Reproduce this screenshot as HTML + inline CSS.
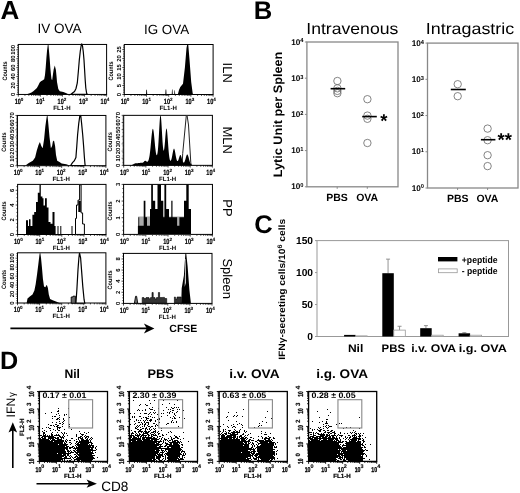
<!DOCTYPE html>
<html><head><meta charset="utf-8"><style>
html,body{margin:0;padding:0;background:#fff;}
svg{display:block;will-change:transform;}
text{font-family:"Liberation Sans",sans-serif;text-rendering:geometricPrecision;}
</style></head><body>
<svg width="520" height="493" viewBox="0 0 520 493" font-family="Liberation Sans, sans-serif">
<text x="0.6" y="18.75" font-size="26" font-weight="bold" text-anchor="start" fill="#000" >A</text>
<text x="37.4" y="33.2" font-size="13.5" text-anchor="start" fill="#000" >IV OVA</text>
<text x="144.0" y="33.7" font-size="13.4" text-anchor="start" fill="#000" >IG OVA</text>
<rect x="18.3" y="44.45" width="88.30" height="50.00" fill="none" stroke="#000" stroke-width="1"/>
<path d="M18.30,94.45 v2.2 M24.95,94.45 v1.4 M28.83,94.45 v1.4 M31.59,94.45 v1.4 M33.73,94.45 v1.4 M35.48,94.45 v1.4 M36.96,94.45 v1.4 M38.24,94.45 v1.4 M39.36,94.45 v1.4 M40.38,94.45 v2.2 M47.02,94.45 v1.4 M50.91,94.45 v1.4 M53.67,94.45 v1.4 M55.80,94.45 v1.4 M57.55,94.45 v1.4 M59.03,94.45 v1.4 M60.31,94.45 v1.4 M61.44,94.45 v1.4 M62.45,94.45 v2.2 M69.10,94.45 v1.4 M72.98,94.45 v1.4 M75.74,94.45 v1.4 M77.88,94.45 v1.4 M79.63,94.45 v1.4 M81.11,94.45 v1.4 M82.39,94.45 v1.4 M83.51,94.45 v1.4 M84.52,94.45 v2.2 M91.17,94.45 v1.4 M95.06,94.45 v1.4 M97.82,94.45 v1.4 M99.95,94.45 v1.4 M101.70,94.45 v1.4 M103.18,94.45 v1.4 M104.46,94.45 v1.4 M105.59,94.45 v1.4 M106.60,94.45 v2.2 M18.30,94.45 h-2.0 M18.30,92.22 h-1.2 M18.30,89.99 h-1.2 M18.30,87.75 h-1.2 M18.30,85.52 h-2.0 M18.30,83.29 h-1.2 M18.30,81.06 h-1.2 M18.30,78.83 h-1.2 M18.30,76.59 h-2.0 M18.30,74.36 h-1.2 M18.30,72.13 h-1.2 M18.30,69.90 h-1.2 M18.30,67.66 h-2.0 M18.30,65.43 h-1.2 M18.30,63.20 h-1.2 M18.30,60.97 h-1.2 M18.30,58.74 h-2.0 M18.30,56.50 h-1.2 M18.30,54.27 h-1.2 M18.30,52.04 h-1.2 M18.30,49.81 h-2.0 M18.30,47.58 h-1.2 M18.30,45.34 h-1.2" stroke="#000" stroke-width="0.7" fill="none"/>
<text x="17.75" y="103.75" font-size="7.6" font-weight="bold" stroke="#000" stroke-width="0.2" text-anchor="middle" textLength="6.2" lengthAdjust="spacingAndGlyphs">10</text>
<text x="20.85" y="100.75" font-size="4.6" font-weight="bold" stroke="#000" stroke-width="0.1">0</text>
<text x="39.22" y="103.75" font-size="7.6" font-weight="bold" stroke="#000" stroke-width="0.2" text-anchor="middle" textLength="6.2" lengthAdjust="spacingAndGlyphs">10</text>
<text x="42.32" y="100.75" font-size="4.6" font-weight="bold" stroke="#000" stroke-width="0.1">1</text>
<text x="60.70" y="103.75" font-size="7.6" font-weight="bold" stroke="#000" stroke-width="0.2" text-anchor="middle" textLength="6.2" lengthAdjust="spacingAndGlyphs">10</text>
<text x="63.80" y="100.75" font-size="4.6" font-weight="bold" stroke="#000" stroke-width="0.1">2</text>
<text x="82.17" y="103.75" font-size="7.6" font-weight="bold" stroke="#000" stroke-width="0.2" text-anchor="middle" textLength="6.2" lengthAdjust="spacingAndGlyphs">10</text>
<text x="85.28" y="100.75" font-size="4.6" font-weight="bold" stroke="#000" stroke-width="0.1">3</text>
<text x="103.65" y="103.75" font-size="7.6" font-weight="bold" stroke="#000" stroke-width="0.2" text-anchor="middle" textLength="6.2" lengthAdjust="spacingAndGlyphs">10</text>
<text x="106.75" y="100.75" font-size="4.6" font-weight="bold" stroke="#000" stroke-width="0.1">4</text>
<text x="62.00" y="109.85" font-size="6.1" font-weight="bold" text-anchor="middle">FL1-H</text>
<text x="14.80" y="94.45" font-size="5.9" font-weight="bold" text-anchor="middle" transform="rotate(-90 14.80 94.45)">0</text>
<text x="14.80" y="85.52" font-size="5.9" font-weight="bold" text-anchor="middle" transform="rotate(-90 14.80 85.52)">20</text>
<text x="14.80" y="76.59" font-size="5.9" font-weight="bold" text-anchor="middle" transform="rotate(-90 14.80 76.59)">40</text>
<text x="14.80" y="67.66" font-size="5.9" font-weight="bold" text-anchor="middle" transform="rotate(-90 14.80 67.66)">60</text>
<text x="14.80" y="58.74" font-size="5.9" font-weight="bold" text-anchor="middle" transform="rotate(-90 14.80 58.74)">80</text>
<text x="14.80" y="49.81" font-size="5.9" font-weight="bold" text-anchor="middle" transform="rotate(-90 14.80 49.81)">100</text>
<text x="6.60" y="70.95" font-size="6.4" font-weight="bold" text-anchor="middle" transform="rotate(-90 6.60 70.95)" textLength="19.2" lengthAdjust="spacingAndGlyphs">Counts</text>
<rect x="124.3" y="44.5" width="88.80" height="50.00" fill="none" stroke="#000" stroke-width="1"/>
<path d="M124.30,94.5 v2.2 M130.98,94.5 v1.4 M134.89,94.5 v1.4 M137.67,94.5 v1.4 M139.82,94.5 v1.4 M141.57,94.5 v1.4 M143.06,94.5 v1.4 M144.35,94.5 v1.4 M145.48,94.5 v1.4 M146.50,94.5 v2.2 M153.18,94.5 v1.4 M157.09,94.5 v1.4 M159.87,94.5 v1.4 M162.02,94.5 v1.4 M163.77,94.5 v1.4 M165.26,94.5 v1.4 M166.55,94.5 v1.4 M167.68,94.5 v1.4 M168.70,94.5 v2.2 M175.38,94.5 v1.4 M179.29,94.5 v1.4 M182.07,94.5 v1.4 M184.22,94.5 v1.4 M185.97,94.5 v1.4 M187.46,94.5 v1.4 M188.75,94.5 v1.4 M189.88,94.5 v1.4 M190.90,94.5 v2.2 M197.58,94.5 v1.4 M201.49,94.5 v1.4 M204.27,94.5 v1.4 M206.42,94.5 v1.4 M208.17,94.5 v1.4 M209.66,94.5 v1.4 M210.95,94.5 v1.4 M212.08,94.5 v1.4 M213.10,94.5 v2.2 M124.30,94.50 h-2.0 M124.30,92.70 h-1.2 M124.30,90.90 h-1.2 M124.30,89.10 h-1.2 M124.30,87.31 h-1.2 M124.30,85.51 h-2.0 M124.30,83.71 h-1.2 M124.30,81.91 h-1.2 M124.30,80.11 h-1.2 M124.30,78.31 h-1.2 M124.30,76.51 h-2.0 M124.30,74.72 h-1.2 M124.30,72.92 h-1.2 M124.30,71.12 h-1.2 M124.30,69.32 h-1.2 M124.30,67.52 h-2.0 M124.30,65.72 h-1.2 M124.30,63.92 h-1.2 M124.30,62.13 h-1.2 M124.30,60.33 h-1.2 M124.30,58.53 h-2.0 M124.30,56.73 h-1.2 M124.30,54.93 h-1.2 M124.30,53.13 h-1.2 M124.30,51.33 h-1.2 M124.30,49.54 h-2.0 M124.30,47.74 h-1.2 M124.30,45.94 h-1.2" stroke="#000" stroke-width="0.7" fill="none"/>
<text x="123.75" y="103.80" font-size="7.6" font-weight="bold" stroke="#000" stroke-width="0.2" text-anchor="middle" textLength="6.2" lengthAdjust="spacingAndGlyphs">10</text>
<text x="126.85" y="100.80" font-size="4.6" font-weight="bold" stroke="#000" stroke-width="0.1">0</text>
<text x="145.35" y="103.80" font-size="7.6" font-weight="bold" stroke="#000" stroke-width="0.2" text-anchor="middle" textLength="6.2" lengthAdjust="spacingAndGlyphs">10</text>
<text x="148.45" y="100.80" font-size="4.6" font-weight="bold" stroke="#000" stroke-width="0.1">1</text>
<text x="166.95" y="103.80" font-size="7.6" font-weight="bold" stroke="#000" stroke-width="0.2" text-anchor="middle" textLength="6.2" lengthAdjust="spacingAndGlyphs">10</text>
<text x="170.05" y="100.80" font-size="4.6" font-weight="bold" stroke="#000" stroke-width="0.1">2</text>
<text x="188.55" y="103.80" font-size="7.6" font-weight="bold" stroke="#000" stroke-width="0.2" text-anchor="middle" textLength="6.2" lengthAdjust="spacingAndGlyphs">10</text>
<text x="191.65" y="100.80" font-size="4.6" font-weight="bold" stroke="#000" stroke-width="0.1">3</text>
<text x="210.15" y="103.80" font-size="7.6" font-weight="bold" stroke="#000" stroke-width="0.2" text-anchor="middle" textLength="6.2" lengthAdjust="spacingAndGlyphs">10</text>
<text x="213.25" y="100.80" font-size="4.6" font-weight="bold" stroke="#000" stroke-width="0.1">4</text>
<text x="168.25" y="109.90" font-size="6.1" font-weight="bold" text-anchor="middle">FL1-H</text>
<text x="120.80" y="94.50" font-size="5.9" font-weight="bold" text-anchor="middle" transform="rotate(-90 120.80 94.50)">0</text>
<text x="120.80" y="85.51" font-size="5.9" font-weight="bold" text-anchor="middle" transform="rotate(-90 120.80 85.51)">5</text>
<text x="120.80" y="76.51" font-size="5.9" font-weight="bold" text-anchor="middle" transform="rotate(-90 120.80 76.51)">10</text>
<text x="120.80" y="67.52" font-size="5.9" font-weight="bold" text-anchor="middle" transform="rotate(-90 120.80 67.52)">15</text>
<text x="120.80" y="58.53" font-size="5.9" font-weight="bold" text-anchor="middle" transform="rotate(-90 120.80 58.53)">20</text>
<text x="120.80" y="49.54" font-size="5.9" font-weight="bold" text-anchor="middle" transform="rotate(-90 120.80 49.54)">25</text>
<text x="112.60" y="71.00" font-size="6.4" font-weight="bold" text-anchor="middle" transform="rotate(-90 112.60 71.00)" textLength="19.2" lengthAdjust="spacingAndGlyphs">Counts</text>
<rect x="17.45" y="115.45" width="88.45" height="50.25" fill="none" stroke="#000" stroke-width="1"/>
<path d="M17.45,165.7 v2.2 M24.11,165.7 v1.4 M28.00,165.7 v1.4 M30.76,165.7 v1.4 M32.91,165.7 v1.4 M34.66,165.7 v1.4 M36.14,165.7 v1.4 M37.42,165.7 v1.4 M38.55,165.7 v1.4 M39.56,165.7 v2.2 M46.22,165.7 v1.4 M50.11,165.7 v1.4 M52.88,165.7 v1.4 M55.02,165.7 v1.4 M56.77,165.7 v1.4 M58.25,165.7 v1.4 M59.53,165.7 v1.4 M60.66,165.7 v1.4 M61.67,165.7 v2.2 M68.33,165.7 v1.4 M72.23,165.7 v1.4 M74.99,165.7 v1.4 M77.13,165.7 v1.4 M78.88,165.7 v1.4 M80.36,165.7 v1.4 M81.64,165.7 v1.4 M82.78,165.7 v1.4 M83.79,165.7 v2.2 M90.44,165.7 v1.4 M94.34,165.7 v1.4 M97.10,165.7 v1.4 M99.24,165.7 v1.4 M100.99,165.7 v1.4 M102.47,165.7 v1.4 M103.76,165.7 v1.4 M104.89,165.7 v1.4 M105.90,165.7 v2.2 M17.45,165.70 h-2.0 M17.45,164.26 h-1.2 M17.45,162.83 h-1.2 M17.45,161.39 h-1.2 M17.45,159.96 h-1.2 M17.45,158.52 h-2.0 M17.45,157.09 h-1.2 M17.45,155.65 h-1.2 M17.45,154.21 h-1.2 M17.45,152.78 h-1.2 M17.45,151.34 h-2.0 M17.45,149.91 h-1.2 M17.45,148.47 h-1.2 M17.45,147.04 h-1.2 M17.45,145.60 h-1.2 M17.45,144.16 h-2.0 M17.45,142.73 h-1.2 M17.45,141.29 h-1.2 M17.45,139.86 h-1.2 M17.45,138.42 h-1.2 M17.45,136.99 h-2.0 M17.45,135.55 h-1.2 M17.45,134.11 h-1.2 M17.45,132.68 h-1.2 M17.45,131.24 h-1.2 M17.45,129.81 h-2.0 M17.45,128.37 h-1.2 M17.45,126.94 h-1.2 M17.45,125.50 h-1.2 M17.45,124.06 h-1.2 M17.45,122.63 h-2.0 M17.45,121.19 h-1.2 M17.45,119.76 h-1.2 M17.45,118.32 h-1.2 M17.45,116.89 h-1.2 M17.45,115.45 h-2.0" stroke="#000" stroke-width="0.7" fill="none"/>
<text x="16.90" y="175.00" font-size="7.6" font-weight="bold" stroke="#000" stroke-width="0.2" text-anchor="middle" textLength="6.2" lengthAdjust="spacingAndGlyphs">10</text>
<text x="20.00" y="172.00" font-size="4.6" font-weight="bold" stroke="#000" stroke-width="0.1">0</text>
<text x="38.41" y="175.00" font-size="7.6" font-weight="bold" stroke="#000" stroke-width="0.2" text-anchor="middle" textLength="6.2" lengthAdjust="spacingAndGlyphs">10</text>
<text x="41.51" y="172.00" font-size="4.6" font-weight="bold" stroke="#000" stroke-width="0.1">1</text>
<text x="59.92" y="175.00" font-size="7.6" font-weight="bold" stroke="#000" stroke-width="0.2" text-anchor="middle" textLength="6.2" lengthAdjust="spacingAndGlyphs">10</text>
<text x="63.02" y="172.00" font-size="4.6" font-weight="bold" stroke="#000" stroke-width="0.1">2</text>
<text x="81.44" y="175.00" font-size="7.6" font-weight="bold" stroke="#000" stroke-width="0.2" text-anchor="middle" textLength="6.2" lengthAdjust="spacingAndGlyphs">10</text>
<text x="84.54" y="172.00" font-size="4.6" font-weight="bold" stroke="#000" stroke-width="0.1">3</text>
<text x="102.95" y="175.00" font-size="7.6" font-weight="bold" stroke="#000" stroke-width="0.2" text-anchor="middle" textLength="6.2" lengthAdjust="spacingAndGlyphs">10</text>
<text x="106.05" y="172.00" font-size="4.6" font-weight="bold" stroke="#000" stroke-width="0.1">4</text>
<text x="61.23" y="181.10" font-size="6.1" font-weight="bold" text-anchor="middle">FL1-H</text>
<text x="13.95" y="165.70" font-size="5.9" font-weight="bold" text-anchor="middle" transform="rotate(-90 13.95 165.70)">0</text>
<text x="13.95" y="158.52" font-size="5.9" font-weight="bold" text-anchor="middle" transform="rotate(-90 13.95 158.52)">10</text>
<text x="13.95" y="151.34" font-size="5.9" font-weight="bold" text-anchor="middle" transform="rotate(-90 13.95 151.34)">20</text>
<text x="13.95" y="144.16" font-size="5.9" font-weight="bold" text-anchor="middle" transform="rotate(-90 13.95 144.16)">30</text>
<text x="13.95" y="136.99" font-size="5.9" font-weight="bold" text-anchor="middle" transform="rotate(-90 13.95 136.99)">40</text>
<text x="13.95" y="129.81" font-size="5.9" font-weight="bold" text-anchor="middle" transform="rotate(-90 13.95 129.81)">50</text>
<text x="13.95" y="122.63" font-size="5.9" font-weight="bold" text-anchor="middle" transform="rotate(-90 13.95 122.63)">60</text>
<text x="13.95" y="115.45" font-size="5.9" font-weight="bold" text-anchor="middle" transform="rotate(-90 13.95 115.45)">70</text>
<text x="5.75" y="142.07" font-size="6.4" font-weight="bold" text-anchor="middle" transform="rotate(-90 5.75 142.07)" textLength="19.2" lengthAdjust="spacingAndGlyphs">Counts</text>
<rect x="123.7" y="115.35" width="88.70" height="50.00" fill="none" stroke="#000" stroke-width="1"/>
<path d="M123.70,165.35 v2.2 M130.38,165.35 v1.4 M134.28,165.35 v1.4 M137.05,165.35 v1.4 M139.20,165.35 v1.4 M140.96,165.35 v1.4 M142.44,165.35 v1.4 M143.73,165.35 v1.4 M144.86,165.35 v1.4 M145.88,165.35 v2.2 M152.55,165.35 v1.4 M156.46,165.35 v1.4 M159.23,165.35 v1.4 M161.37,165.35 v1.4 M163.13,165.35 v1.4 M164.62,165.35 v1.4 M165.90,165.35 v1.4 M167.04,165.35 v1.4 M168.05,165.35 v2.2 M174.73,165.35 v1.4 M178.63,165.35 v1.4 M181.40,165.35 v1.4 M183.55,165.35 v1.4 M185.31,165.35 v1.4 M186.79,165.35 v1.4 M188.08,165.35 v1.4 M189.21,165.35 v1.4 M190.23,165.35 v2.2 M196.90,165.35 v1.4 M200.81,165.35 v1.4 M203.58,165.35 v1.4 M205.72,165.35 v1.4 M207.48,165.35 v1.4 M208.97,165.35 v1.4 M210.25,165.35 v1.4 M211.39,165.35 v1.4 M212.40,165.35 v2.2 M123.70,165.35 h-2.0 M123.70,163.92 h-1.2 M123.70,162.49 h-1.2 M123.70,161.06 h-1.2 M123.70,159.64 h-1.2 M123.70,158.21 h-2.0 M123.70,156.78 h-1.2 M123.70,155.35 h-1.2 M123.70,153.92 h-1.2 M123.70,152.49 h-1.2 M123.70,151.06 h-2.0 M123.70,149.64 h-1.2 M123.70,148.21 h-1.2 M123.70,146.78 h-1.2 M123.70,145.35 h-1.2 M123.70,143.92 h-2.0 M123.70,142.49 h-1.2 M123.70,141.06 h-1.2 M123.70,139.64 h-1.2 M123.70,138.21 h-1.2 M123.70,136.78 h-2.0 M123.70,135.35 h-1.2 M123.70,133.92 h-1.2 M123.70,132.49 h-1.2 M123.70,131.06 h-1.2 M123.70,129.64 h-2.0 M123.70,128.21 h-1.2 M123.70,126.78 h-1.2 M123.70,125.35 h-1.2 M123.70,123.92 h-1.2 M123.70,122.49 h-2.0 M123.70,121.06 h-1.2 M123.70,119.64 h-1.2 M123.70,118.21 h-1.2 M123.70,116.78 h-1.2 M123.70,115.35 h-2.0" stroke="#000" stroke-width="0.7" fill="none"/>
<text x="123.15" y="174.65" font-size="7.6" font-weight="bold" stroke="#000" stroke-width="0.2" text-anchor="middle" textLength="6.2" lengthAdjust="spacingAndGlyphs">10</text>
<text x="126.25" y="171.65" font-size="4.6" font-weight="bold" stroke="#000" stroke-width="0.1">0</text>
<text x="144.73" y="174.65" font-size="7.6" font-weight="bold" stroke="#000" stroke-width="0.2" text-anchor="middle" textLength="6.2" lengthAdjust="spacingAndGlyphs">10</text>
<text x="147.83" y="171.65" font-size="4.6" font-weight="bold" stroke="#000" stroke-width="0.1">1</text>
<text x="166.30" y="174.65" font-size="7.6" font-weight="bold" stroke="#000" stroke-width="0.2" text-anchor="middle" textLength="6.2" lengthAdjust="spacingAndGlyphs">10</text>
<text x="169.40" y="171.65" font-size="4.6" font-weight="bold" stroke="#000" stroke-width="0.1">2</text>
<text x="187.88" y="174.65" font-size="7.6" font-weight="bold" stroke="#000" stroke-width="0.2" text-anchor="middle" textLength="6.2" lengthAdjust="spacingAndGlyphs">10</text>
<text x="190.97" y="171.65" font-size="4.6" font-weight="bold" stroke="#000" stroke-width="0.1">3</text>
<text x="209.45" y="174.65" font-size="7.6" font-weight="bold" stroke="#000" stroke-width="0.2" text-anchor="middle" textLength="6.2" lengthAdjust="spacingAndGlyphs">10</text>
<text x="212.55" y="171.65" font-size="4.6" font-weight="bold" stroke="#000" stroke-width="0.1">4</text>
<text x="167.60" y="180.75" font-size="6.1" font-weight="bold" text-anchor="middle">FL1-H</text>
<text x="120.20" y="165.35" font-size="5.9" font-weight="bold" text-anchor="middle" transform="rotate(-90 120.20 165.35)">0</text>
<text x="120.20" y="158.21" font-size="5.9" font-weight="bold" text-anchor="middle" transform="rotate(-90 120.20 158.21)">10</text>
<text x="120.20" y="151.06" font-size="5.9" font-weight="bold" text-anchor="middle" transform="rotate(-90 120.20 151.06)">20</text>
<text x="120.20" y="143.92" font-size="5.9" font-weight="bold" text-anchor="middle" transform="rotate(-90 120.20 143.92)">30</text>
<text x="120.20" y="136.78" font-size="5.9" font-weight="bold" text-anchor="middle" transform="rotate(-90 120.20 136.78)">40</text>
<text x="120.20" y="129.64" font-size="5.9" font-weight="bold" text-anchor="middle" transform="rotate(-90 120.20 129.64)">50</text>
<text x="120.20" y="122.49" font-size="5.9" font-weight="bold" text-anchor="middle" transform="rotate(-90 120.20 122.49)">60</text>
<text x="120.20" y="115.35" font-size="5.9" font-weight="bold" text-anchor="middle" transform="rotate(-90 120.20 115.35)">70</text>
<text x="112.00" y="141.85" font-size="6.4" font-weight="bold" text-anchor="middle" transform="rotate(-90 112.00 141.85)" textLength="19.2" lengthAdjust="spacingAndGlyphs">Counts</text>
<rect x="17.6" y="184.4" width="88.40" height="50.10" fill="none" stroke="#000" stroke-width="1"/>
<path d="M17.60,234.5 v2.2 M24.25,234.5 v1.4 M28.14,234.5 v1.4 M30.91,234.5 v1.4 M33.05,234.5 v1.4 M34.80,234.5 v1.4 M36.28,234.5 v1.4 M37.56,234.5 v1.4 M38.69,234.5 v1.4 M39.70,234.5 v2.2 M46.35,234.5 v1.4 M50.24,234.5 v1.4 M53.01,234.5 v1.4 M55.15,234.5 v1.4 M56.90,234.5 v1.4 M58.38,234.5 v1.4 M59.66,234.5 v1.4 M60.79,234.5 v1.4 M61.80,234.5 v2.2 M68.45,234.5 v1.4 M72.34,234.5 v1.4 M75.11,234.5 v1.4 M77.25,234.5 v1.4 M79.00,234.5 v1.4 M80.48,234.5 v1.4 M81.76,234.5 v1.4 M82.89,234.5 v1.4 M83.90,234.5 v2.2 M90.55,234.5 v1.4 M94.44,234.5 v1.4 M97.21,234.5 v1.4 M99.35,234.5 v1.4 M101.10,234.5 v1.4 M102.58,234.5 v1.4 M103.86,234.5 v1.4 M104.99,234.5 v1.4 M106.00,234.5 v2.2 M17.60,234.50 h-2.0 M17.60,230.82 h-1.2 M17.60,227.13 h-1.2 M17.60,223.45 h-1.2 M17.60,219.76 h-2.0 M17.60,216.08 h-1.2 M17.60,212.40 h-1.2 M17.60,208.71 h-1.2 M17.60,205.03 h-2.0 M17.60,201.35 h-1.2 M17.60,197.66 h-1.2 M17.60,193.98 h-1.2 M17.60,190.29 h-2.0 M17.60,186.61 h-1.2" stroke="#000" stroke-width="0.7" fill="none"/>
<text x="17.05" y="243.80" font-size="7.6" font-weight="bold" stroke="#000" stroke-width="0.2" text-anchor="middle" textLength="6.2" lengthAdjust="spacingAndGlyphs">10</text>
<text x="20.15" y="240.80" font-size="4.6" font-weight="bold" stroke="#000" stroke-width="0.1">0</text>
<text x="38.55" y="243.80" font-size="7.6" font-weight="bold" stroke="#000" stroke-width="0.2" text-anchor="middle" textLength="6.2" lengthAdjust="spacingAndGlyphs">10</text>
<text x="41.65" y="240.80" font-size="4.6" font-weight="bold" stroke="#000" stroke-width="0.1">1</text>
<text x="60.05" y="243.80" font-size="7.6" font-weight="bold" stroke="#000" stroke-width="0.2" text-anchor="middle" textLength="6.2" lengthAdjust="spacingAndGlyphs">10</text>
<text x="63.15" y="240.80" font-size="4.6" font-weight="bold" stroke="#000" stroke-width="0.1">2</text>
<text x="81.55" y="243.80" font-size="7.6" font-weight="bold" stroke="#000" stroke-width="0.2" text-anchor="middle" textLength="6.2" lengthAdjust="spacingAndGlyphs">10</text>
<text x="84.65" y="240.80" font-size="4.6" font-weight="bold" stroke="#000" stroke-width="0.1">3</text>
<text x="103.05" y="243.80" font-size="7.6" font-weight="bold" stroke="#000" stroke-width="0.2" text-anchor="middle" textLength="6.2" lengthAdjust="spacingAndGlyphs">10</text>
<text x="106.15" y="240.80" font-size="4.6" font-weight="bold" stroke="#000" stroke-width="0.1">4</text>
<text x="61.35" y="249.90" font-size="6.1" font-weight="bold" text-anchor="middle">FL1-H</text>
<text x="14.10" y="234.50" font-size="5.9" font-weight="bold" text-anchor="middle" transform="rotate(-90 14.10 234.50)">0</text>
<text x="14.10" y="219.76" font-size="5.9" font-weight="bold" text-anchor="middle" transform="rotate(-90 14.10 219.76)">2</text>
<text x="14.10" y="205.03" font-size="5.9" font-weight="bold" text-anchor="middle" transform="rotate(-90 14.10 205.03)">4</text>
<text x="14.10" y="190.29" font-size="5.9" font-weight="bold" text-anchor="middle" transform="rotate(-90 14.10 190.29)">6</text>
<text x="5.90" y="210.95" font-size="6.4" font-weight="bold" text-anchor="middle" transform="rotate(-90 5.90 210.95)" textLength="19.2" lengthAdjust="spacingAndGlyphs">Counts</text>
<rect x="123.6" y="184.4" width="88.85" height="50.00" fill="none" stroke="#000" stroke-width="1"/>
<path d="M123.60,234.4 v2.2 M130.29,234.4 v1.4 M134.20,234.4 v1.4 M136.97,234.4 v1.4 M139.13,234.4 v1.4 M140.88,234.4 v1.4 M142.37,234.4 v1.4 M143.66,234.4 v1.4 M144.80,234.4 v1.4 M145.81,234.4 v2.2 M152.50,234.4 v1.4 M156.41,234.4 v1.4 M159.19,234.4 v1.4 M161.34,234.4 v1.4 M163.10,234.4 v1.4 M164.58,234.4 v1.4 M165.87,234.4 v1.4 M167.01,234.4 v1.4 M168.02,234.4 v2.2 M174.71,234.4 v1.4 M178.62,234.4 v1.4 M181.40,234.4 v1.4 M183.55,234.4 v1.4 M185.31,234.4 v1.4 M186.80,234.4 v1.4 M188.08,234.4 v1.4 M189.22,234.4 v1.4 M190.24,234.4 v2.2 M196.92,234.4 v1.4 M200.84,234.4 v1.4 M203.61,234.4 v1.4 M205.76,234.4 v1.4 M207.52,234.4 v1.4 M209.01,234.4 v1.4 M210.30,234.4 v1.4 M211.43,234.4 v1.4 M212.45,234.4 v2.2 M123.60,234.40 h-2.0 M123.60,230.23 h-1.2 M123.60,226.07 h-1.2 M123.60,221.90 h-1.2 M123.60,217.73 h-2.0 M123.60,213.57 h-1.2 M123.60,209.40 h-1.2 M123.60,205.23 h-1.2 M123.60,201.07 h-2.0 M123.60,196.90 h-1.2 M123.60,192.73 h-1.2 M123.60,188.57 h-1.2 M123.60,184.40 h-2.0" stroke="#000" stroke-width="0.7" fill="none"/>
<text x="123.05" y="243.70" font-size="7.6" font-weight="bold" stroke="#000" stroke-width="0.2" text-anchor="middle" textLength="6.2" lengthAdjust="spacingAndGlyphs">10</text>
<text x="126.15" y="240.70" font-size="4.6" font-weight="bold" stroke="#000" stroke-width="0.1">0</text>
<text x="144.66" y="243.70" font-size="7.6" font-weight="bold" stroke="#000" stroke-width="0.2" text-anchor="middle" textLength="6.2" lengthAdjust="spacingAndGlyphs">10</text>
<text x="147.76" y="240.70" font-size="4.6" font-weight="bold" stroke="#000" stroke-width="0.1">1</text>
<text x="166.28" y="243.70" font-size="7.6" font-weight="bold" stroke="#000" stroke-width="0.2" text-anchor="middle" textLength="6.2" lengthAdjust="spacingAndGlyphs">10</text>
<text x="169.38" y="240.70" font-size="4.6" font-weight="bold" stroke="#000" stroke-width="0.1">2</text>
<text x="187.89" y="243.70" font-size="7.6" font-weight="bold" stroke="#000" stroke-width="0.2" text-anchor="middle" textLength="6.2" lengthAdjust="spacingAndGlyphs">10</text>
<text x="190.99" y="240.70" font-size="4.6" font-weight="bold" stroke="#000" stroke-width="0.1">3</text>
<text x="209.50" y="243.70" font-size="7.6" font-weight="bold" stroke="#000" stroke-width="0.2" text-anchor="middle" textLength="6.2" lengthAdjust="spacingAndGlyphs">10</text>
<text x="212.60" y="240.70" font-size="4.6" font-weight="bold" stroke="#000" stroke-width="0.1">4</text>
<text x="167.57" y="249.80" font-size="6.1" font-weight="bold" text-anchor="middle">FL1-H</text>
<text x="120.10" y="234.40" font-size="5.9" font-weight="bold" text-anchor="middle" transform="rotate(-90 120.10 234.40)">0</text>
<text x="120.10" y="217.73" font-size="5.9" font-weight="bold" text-anchor="middle" transform="rotate(-90 120.10 217.73)">1</text>
<text x="120.10" y="201.07" font-size="5.9" font-weight="bold" text-anchor="middle" transform="rotate(-90 120.10 201.07)">2</text>
<text x="120.10" y="184.40" font-size="5.9" font-weight="bold" text-anchor="middle" transform="rotate(-90 120.10 184.40)">3</text>
<text x="111.90" y="210.90" font-size="6.4" font-weight="bold" text-anchor="middle" transform="rotate(-90 111.90 210.90)" textLength="19.2" lengthAdjust="spacingAndGlyphs">Counts</text>
<rect x="17.5" y="252.8" width="88.40" height="50.20" fill="none" stroke="#000" stroke-width="1"/>
<path d="M17.50,303.0 v2.2 M24.15,303.0 v1.4 M28.04,303.0 v1.4 M30.81,303.0 v1.4 M32.95,303.0 v1.4 M34.70,303.0 v1.4 M36.18,303.0 v1.4 M37.46,303.0 v1.4 M38.59,303.0 v1.4 M39.60,303.0 v2.2 M46.25,303.0 v1.4 M50.14,303.0 v1.4 M52.91,303.0 v1.4 M55.05,303.0 v1.4 M56.80,303.0 v1.4 M58.28,303.0 v1.4 M59.56,303.0 v1.4 M60.69,303.0 v1.4 M61.70,303.0 v2.2 M68.35,303.0 v1.4 M72.24,303.0 v1.4 M75.01,303.0 v1.4 M77.15,303.0 v1.4 M78.90,303.0 v1.4 M80.38,303.0 v1.4 M81.66,303.0 v1.4 M82.79,303.0 v1.4 M83.80,303.0 v2.2 M90.45,303.0 v1.4 M94.34,303.0 v1.4 M97.11,303.0 v1.4 M99.25,303.0 v1.4 M101.00,303.0 v1.4 M102.48,303.0 v1.4 M103.76,303.0 v1.4 M104.89,303.0 v1.4 M105.90,303.0 v2.2 M17.50,303.00 h-2.0 M17.50,300.76 h-1.2 M17.50,298.52 h-1.2 M17.50,296.28 h-1.2 M17.50,294.04 h-2.0 M17.50,291.79 h-1.2 M17.50,289.55 h-1.2 M17.50,287.31 h-1.2 M17.50,285.07 h-2.0 M17.50,282.83 h-1.2 M17.50,280.59 h-1.2 M17.50,278.35 h-1.2 M17.50,276.11 h-2.0 M17.50,273.87 h-1.2 M17.50,271.62 h-1.2 M17.50,269.38 h-1.2 M17.50,267.14 h-2.0 M17.50,264.90 h-1.2 M17.50,262.66 h-1.2 M17.50,260.42 h-1.2 M17.50,258.18 h-2.0 M17.50,255.94 h-1.2 M17.50,253.70 h-1.2" stroke="#000" stroke-width="0.7" fill="none"/>
<text x="16.95" y="312.30" font-size="7.6" font-weight="bold" stroke="#000" stroke-width="0.2" text-anchor="middle" textLength="6.2" lengthAdjust="spacingAndGlyphs">10</text>
<text x="20.05" y="309.30" font-size="4.6" font-weight="bold" stroke="#000" stroke-width="0.1">0</text>
<text x="38.45" y="312.30" font-size="7.6" font-weight="bold" stroke="#000" stroke-width="0.2" text-anchor="middle" textLength="6.2" lengthAdjust="spacingAndGlyphs">10</text>
<text x="41.55" y="309.30" font-size="4.6" font-weight="bold" stroke="#000" stroke-width="0.1">1</text>
<text x="59.95" y="312.30" font-size="7.6" font-weight="bold" stroke="#000" stroke-width="0.2" text-anchor="middle" textLength="6.2" lengthAdjust="spacingAndGlyphs">10</text>
<text x="63.05" y="309.30" font-size="4.6" font-weight="bold" stroke="#000" stroke-width="0.1">2</text>
<text x="81.45" y="312.30" font-size="7.6" font-weight="bold" stroke="#000" stroke-width="0.2" text-anchor="middle" textLength="6.2" lengthAdjust="spacingAndGlyphs">10</text>
<text x="84.55" y="309.30" font-size="4.6" font-weight="bold" stroke="#000" stroke-width="0.1">3</text>
<text x="102.95" y="312.30" font-size="7.6" font-weight="bold" stroke="#000" stroke-width="0.2" text-anchor="middle" textLength="6.2" lengthAdjust="spacingAndGlyphs">10</text>
<text x="106.05" y="309.30" font-size="4.6" font-weight="bold" stroke="#000" stroke-width="0.1">4</text>
<text x="61.25" y="318.40" font-size="6.1" font-weight="bold" text-anchor="middle">FL1-H</text>
<text x="14.00" y="303.00" font-size="5.9" font-weight="bold" text-anchor="middle" transform="rotate(-90 14.00 303.00)">0</text>
<text x="14.00" y="294.04" font-size="5.9" font-weight="bold" text-anchor="middle" transform="rotate(-90 14.00 294.04)">20</text>
<text x="14.00" y="285.07" font-size="5.9" font-weight="bold" text-anchor="middle" transform="rotate(-90 14.00 285.07)">40</text>
<text x="14.00" y="276.11" font-size="5.9" font-weight="bold" text-anchor="middle" transform="rotate(-90 14.00 276.11)">60</text>
<text x="14.00" y="267.14" font-size="5.9" font-weight="bold" text-anchor="middle" transform="rotate(-90 14.00 267.14)">80</text>
<text x="14.00" y="258.18" font-size="5.9" font-weight="bold" text-anchor="middle" transform="rotate(-90 14.00 258.18)">100</text>
<text x="5.80" y="279.40" font-size="6.4" font-weight="bold" text-anchor="middle" transform="rotate(-90 5.80 279.40)" textLength="19.2" lengthAdjust="spacingAndGlyphs">Counts</text>
<rect x="123.5" y="253.4" width="88.50" height="50.00" fill="none" stroke="#000" stroke-width="1"/>
<path d="M123.50,303.4 v2.2 M130.16,303.4 v1.4 M134.06,303.4 v1.4 M136.82,303.4 v1.4 M138.96,303.4 v1.4 M140.72,303.4 v1.4 M142.20,303.4 v1.4 M143.48,303.4 v1.4 M144.61,303.4 v1.4 M145.62,303.4 v2.2 M152.29,303.4 v1.4 M156.18,303.4 v1.4 M158.95,303.4 v1.4 M161.09,303.4 v1.4 M162.84,303.4 v1.4 M164.32,303.4 v1.4 M165.61,303.4 v1.4 M166.74,303.4 v1.4 M167.75,303.4 v2.2 M174.41,303.4 v1.4 M178.31,303.4 v1.4 M181.07,303.4 v1.4 M183.21,303.4 v1.4 M184.97,303.4 v1.4 M186.45,303.4 v1.4 M187.73,303.4 v1.4 M188.86,303.4 v1.4 M189.88,303.4 v2.2 M196.54,303.4 v1.4 M200.43,303.4 v1.4 M203.20,303.4 v1.4 M205.34,303.4 v1.4 M207.09,303.4 v1.4 M208.57,303.4 v1.4 M209.86,303.4 v1.4 M210.99,303.4 v1.4 M212.00,303.4 v2.2 M123.50,303.40 h-2.0 M123.50,300.62 h-1.2 M123.50,297.84 h-1.2 M123.50,295.07 h-1.2 M123.50,292.29 h-2.0 M123.50,289.51 h-1.2 M123.50,286.73 h-1.2 M123.50,283.96 h-1.2 M123.50,281.18 h-2.0 M123.50,278.40 h-1.2 M123.50,275.62 h-1.2 M123.50,272.84 h-1.2 M123.50,270.07 h-2.0 M123.50,267.29 h-1.2 M123.50,264.51 h-1.2 M123.50,261.73 h-1.2 M123.50,258.96 h-2.0 M123.50,256.18 h-1.2 M123.50,253.40 h-1.2" stroke="#000" stroke-width="0.7" fill="none"/>
<text x="122.95" y="312.70" font-size="7.6" font-weight="bold" stroke="#000" stroke-width="0.2" text-anchor="middle" textLength="6.2" lengthAdjust="spacingAndGlyphs">10</text>
<text x="126.05" y="309.70" font-size="4.6" font-weight="bold" stroke="#000" stroke-width="0.1">0</text>
<text x="144.48" y="312.70" font-size="7.6" font-weight="bold" stroke="#000" stroke-width="0.2" text-anchor="middle" textLength="6.2" lengthAdjust="spacingAndGlyphs">10</text>
<text x="147.58" y="309.70" font-size="4.6" font-weight="bold" stroke="#000" stroke-width="0.1">1</text>
<text x="166.00" y="312.70" font-size="7.6" font-weight="bold" stroke="#000" stroke-width="0.2" text-anchor="middle" textLength="6.2" lengthAdjust="spacingAndGlyphs">10</text>
<text x="169.10" y="309.70" font-size="4.6" font-weight="bold" stroke="#000" stroke-width="0.1">2</text>
<text x="187.53" y="312.70" font-size="7.6" font-weight="bold" stroke="#000" stroke-width="0.2" text-anchor="middle" textLength="6.2" lengthAdjust="spacingAndGlyphs">10</text>
<text x="190.62" y="309.70" font-size="4.6" font-weight="bold" stroke="#000" stroke-width="0.1">3</text>
<text x="209.05" y="312.70" font-size="7.6" font-weight="bold" stroke="#000" stroke-width="0.2" text-anchor="middle" textLength="6.2" lengthAdjust="spacingAndGlyphs">10</text>
<text x="212.15" y="309.70" font-size="4.6" font-weight="bold" stroke="#000" stroke-width="0.1">4</text>
<text x="167.30" y="318.80" font-size="6.1" font-weight="bold" text-anchor="middle">FL1-H</text>
<text x="120.00" y="303.40" font-size="5.9" font-weight="bold" text-anchor="middle" transform="rotate(-90 120.00 303.40)">0</text>
<text x="120.00" y="292.29" font-size="5.9" font-weight="bold" text-anchor="middle" transform="rotate(-90 120.00 292.29)">2</text>
<text x="120.00" y="281.18" font-size="5.9" font-weight="bold" text-anchor="middle" transform="rotate(-90 120.00 281.18)">4</text>
<text x="120.00" y="270.07" font-size="5.9" font-weight="bold" text-anchor="middle" transform="rotate(-90 120.00 270.07)">6</text>
<text x="120.00" y="258.96" font-size="5.9" font-weight="bold" text-anchor="middle" transform="rotate(-90 120.00 258.96)">8</text>
<text x="111.80" y="279.90" font-size="6.4" font-weight="bold" text-anchor="middle" transform="rotate(-90 111.80 279.90)" textLength="19.2" lengthAdjust="spacingAndGlyphs">Counts</text>
<path d="M26.00,94.45 L29.00,93.60 L31.50,92.50 L33.30,91.20 L35.00,89.80 L36.90,87.90 L38.50,85.00 L39.70,82.40 L41.00,81.20 L42.40,80.60 L44.20,79.30 L45.00,75.00 L45.70,67.40 L46.40,58.00 L47.00,51.00 L47.90,44.00 L48.40,44.00 L49.00,51.00 L49.70,59.00 L50.30,67.40 L51.00,75.00 L51.50,79.30 L52.20,80.00 L53.00,74.00 L53.70,69.20 L54.80,65.60 L55.90,70.10 L56.50,76.00 L57.00,82.00 L58.30,89.00 L59.80,91.20 L63.40,92.10 L67.00,93.40 L68.50,94.45 Z" fill="#000" stroke="none" stroke-width="1" stroke-linejoin="miter"/>
<path d="M70.70,94.45 L72.50,93.00 L74.50,91.50 L76.00,88.50 L77.30,83.00 L78.30,72.00 L79.30,60.00 L80.30,51.00 L81.20,45.50 L81.80,44.20 L82.50,46.00 L83.30,52.00 L84.00,60.00 L84.60,70.00 L85.20,80.00 L85.80,88.00 L86.60,93.00 L87.30,94.45 Z" fill="#fff" stroke="#000" stroke-width="1.2" stroke-linejoin="miter"/>
<path d="M146.00,94.45 L146.30,89.70 L146.90,89.70 L147.20,94.45 Z" fill="#000" stroke="none" stroke-width="1" stroke-linejoin="miter"/>
<path d="M165.30,94.45 L165.60,89.50 L166.20,89.50 L166.50,94.45 Z" fill="#000" stroke="none" stroke-width="1" stroke-linejoin="miter"/>
<path d="M171.70,94.45 L172.00,89.50 L172.50,89.50 L172.80,94.45 Z" fill="#000" stroke="none" stroke-width="1" stroke-linejoin="miter"/>
<path d="M174.20,94.45 L174.50,90.20 L174.90,90.20 L175.20,94.45 Z" fill="#000" stroke="none" stroke-width="1" stroke-linejoin="miter"/>
<path d="M177.80,94.45 L179.00,90.00 L180.30,87.10 L183.00,83.80 L184.90,67.40 L186.50,48.00 L187.30,44.00 L188.20,44.00 L189.40,58.30 L191.20,82.00 L192.70,93.50 L193.40,94.45 Z" fill="#000" stroke="none" stroke-width="1" stroke-linejoin="miter"/>
<path d="M25.40,165.50 L28.80,163.10 L32.80,160.80 L35.10,157.40 L36.80,150.60 L38.50,144.90 L39.90,142.10 L41.30,146.00 L42.70,148.30 L44.10,139.20 L45.30,126.80 L46.40,118.80 L47.00,115.50 L47.50,115.50 L48.30,123.40 L49.50,137.00 L50.90,148.30 L52.10,146.00 L52.90,141.50 L54.00,140.40 L55.10,146.00 L56.00,155.10 L57.20,160.80 L59.50,162.00 L61.70,163.60 L66.30,164.20 L69.70,165.50 Z" fill="#000" stroke="none" stroke-width="1" stroke-linejoin="miter"/>
<path d="M70.50,165.50 L71.40,164.30 L72.50,162.60 L74.20,160.90 L75.90,157.50 L76.80,146.00 L77.60,134.70 L78.75,123.40 L79.80,116.00 L80.30,115.50 L80.80,116.00 L81.60,123.40 L82.70,134.70 L83.60,146.00 L84.40,157.50 L85.00,164.30 L85.30,165.50 Z" fill="#fff" stroke="#000" stroke-width="1.2" stroke-linejoin="miter"/>
<path d="M182.10,165.50 L182.70,153.50 L186.30,115.50 L187.10,115.50 L188.50,125.00 L190.80,162.80 L191.30,165.50 Z" fill="#fff" stroke="#222" stroke-width="1.0" stroke-linejoin="miter"/>
<path d="M131.50,165.50 L131.50,165.07 L131.75,164.99 L132.00,164.89 L132.25,164.78 L132.50,164.67 L132.75,164.54 L133.00,164.41 L133.25,164.27 L133.50,164.13 L133.75,164.00 L134.00,163.87 L134.25,163.74 L134.50,163.63 L134.75,163.53 L135.00,163.45 L135.25,163.37 L135.50,163.32 L135.75,163.27 L136.00,163.24 L136.25,163.22 L136.50,163.21 L136.75,163.20 L137.00,163.19 L137.25,163.18 L137.50,163.17 L137.75,163.16 L138.00,163.14 L138.25,163.12 L138.50,163.09 L138.75,163.06 L139.00,163.02 L139.25,162.99 L139.50,162.96 L139.75,162.92 L140.00,162.89 L140.25,162.86 L140.50,162.84 L140.75,162.83 L141.00,162.81 L141.25,162.81 L141.50,162.80 L141.75,162.80 L142.00,162.79 L142.25,162.76 L142.50,162.72 L142.75,162.64 L143.00,162.53 L143.25,162.37 L143.50,162.16 L143.75,161.92 L144.00,161.64 L144.25,161.36 L144.50,161.11 L144.75,160.90 L145.00,160.77 L145.25,160.73 L145.50,160.77 L145.75,160.90 L146.00,161.09 L146.25,161.30 L146.50,161.51 L146.75,161.68 L147.00,161.78 L147.25,161.80 L147.50,161.72 L147.75,161.53 L148.00,161.22 L148.25,160.78 L148.50,160.19 L148.75,159.43 L149.00,158.48 L149.25,157.30 L149.50,155.89 L149.75,154.21 L150.00,152.27 L150.25,150.06 L150.50,147.63 L150.75,145.01 L151.00,142.29 L151.25,139.54 L151.50,136.87 L151.75,134.41 L152.00,132.27 L152.25,130.57 L152.50,129.40 L152.75,128.82 L153.00,128.88 L153.25,129.56 L153.50,130.83 L153.75,132.61 L154.00,134.80 L154.25,137.28 L154.50,139.93 L154.75,142.61 L155.00,145.21 L155.25,147.63 L155.50,149.80 L155.75,151.66 L156.00,153.16 L156.25,154.28 L156.50,154.99 L156.75,155.27 L157.00,155.08 L157.25,154.37 L157.50,153.09 L157.75,151.20 L158.00,148.68 L158.25,145.52 L158.50,141.77 L158.75,137.56 L159.00,133.06 L159.25,128.52 L159.50,124.21 L159.75,120.45 L160.00,117.51 L160.25,115.63 L160.50,115.50 L160.75,115.60 L161.00,117.45 L161.25,120.35 L161.50,124.06 L161.75,128.31 L162.00,132.76 L162.25,137.12 L162.50,141.14 L162.75,144.60 L163.00,147.36 L163.25,149.31 L163.50,150.42 L163.75,150.67 L164.00,150.10 L164.25,148.75 L164.50,146.72 L164.75,144.14 L165.00,141.19 L165.25,138.07 L165.50,135.03 L165.75,132.33 L166.00,130.20 L166.25,128.86 L166.50,128.44 L166.75,129.00 L167.00,130.49 L167.25,132.79 L167.50,135.74 L167.75,139.09 L168.00,142.62 L168.25,146.11 L168.50,149.37 L168.75,152.28 L169.00,154.77 L169.25,156.78 L169.50,158.35 L169.75,159.49 L170.00,160.25 L170.25,160.69 L170.50,160.83 L170.75,160.70 L171.00,160.34 L171.25,159.75 L171.50,158.94 L171.75,157.94 L172.00,156.76 L172.25,155.45 L172.50,154.07 L172.75,152.68 L173.00,151.38 L173.25,150.25 L173.50,149.38 L173.75,148.84 L174.00,148.66 L174.25,148.87 L174.50,149.46 L174.75,150.37 L175.00,151.53 L175.25,152.87 L175.50,154.29 L175.75,155.70 L176.00,157.04 L176.25,158.23 L176.50,159.24 L176.75,160.05 L177.00,160.63 L177.25,160.99 L177.50,161.12 L177.75,161.03 L178.00,160.74 L178.25,160.26 L178.50,159.63 L178.75,158.86 L179.00,158.03 L179.25,157.17 L179.50,156.38 L179.75,155.70 L180.00,155.22 L180.25,154.96 L180.50,154.97 L180.75,155.25 L181.00,155.77 L181.25,156.49 L181.50,157.35 L181.75,158.28 L182.00,159.22 L182.25,160.10 L182.50,160.89 L182.75,161.54 L183.00,162.05 L183.25,162.39 L183.50,162.58 L183.75,162.61 L184.00,162.48 L184.25,162.20 L184.50,161.77 L184.75,161.21 L185.00,160.53 L185.25,159.74 L185.50,158.88 L185.75,157.97 L186.00,157.08 L186.25,156.24 L186.50,155.51 L186.75,154.94 L187.00,154.57 L187.25,154.44 L187.50,154.54 L187.75,154.88 L188.00,155.44 L188.25,156.17 L188.50,157.04 L188.75,157.98 L189.00,158.96 L189.25,159.91 L189.50,160.81 L189.75,161.63 L190.00,162.34 L190.25,162.95 L190.50,163.45 L190.75,163.85 L191.00,164.16 L191.25,164.40 L191.50,164.58 L191.75,164.71 L192.00,164.81 L192.00,165.50 Z" fill="#000" stroke="none" stroke-width="1" stroke-linejoin="miter"/>
<path d="M26.00,234.45 L26.00,220.20 L28.00,220.20 L28.00,226.00 L29.00,226.00 L29.00,219.30 L30.50,219.30 L30.50,226.00 L32.40,226.00 L32.40,214.70 L34.20,214.70 L34.20,212.00 L36.00,212.00 L36.00,201.90 L37.80,201.90 L37.80,192.80 L39.50,192.80 L39.50,184.80 L40.80,184.80 L40.80,196.40 L42.40,196.40 L42.40,198.30 L43.50,198.30 L43.50,205.60 L45.00,205.60 L45.00,198.30 L46.80,198.30 L46.80,207.40 L48.50,207.40 L48.50,222.00 L50.50,222.00 L50.50,223.80 L52.50,223.80 L52.50,212.00 L54.50,212.00 L54.50,226.00 L55.60,226.00 L55.60,234.45 Z" fill="#000" stroke="none" stroke-width="1" stroke-linejoin="miter"/>
<path d="M57.50,234.45 L57.50,226.00 L58.50,226.00 L58.50,234.45 Z" fill="#000" stroke="none" stroke-width="1" stroke-linejoin="miter"/>
<path d="M60.30,234.45 L60.30,226.00 L61.30,226.00 L61.30,234.45 Z" fill="#000" stroke="none" stroke-width="1" stroke-linejoin="miter"/>
<path d="M71.50,234.45 L71.50,226.00 L72.50,226.00 L72.50,234.45 Z" fill="#000" stroke="none" stroke-width="1" stroke-linejoin="miter"/>
<path d="M75.50,234.45 L75.50,218.40 L76.50,218.40 L76.50,205.00 L78.00,205.00 L78.00,200.10 L79.60,200.10 L79.60,184.80 L81.10,184.80 L81.10,212.90 L82.60,212.90 L82.60,224.00 L84.40,224.00 L84.40,234.45 Z" fill="#fff" stroke="#000" stroke-width="1.0" stroke-linejoin="miter"/>
<path d="M78.30,212.00 L78.30,201.00 L80.80,201.00 L80.80,212.00 Z" fill="#000" stroke="none" stroke-width="1" stroke-linejoin="miter"/>
<path d="M138.20,234.45 L138.20,216.60 L191.00,216.60 L191.00,234.45 Z" fill="#aaa" stroke="none" stroke-width="1" stroke-linejoin="miter"/>
<path d="M137.90,234.45 L137.90,225.80 L138.40,225.80 L138.40,217.20 L139.20,217.20 L139.20,225.80 L143.70,225.80 L143.70,200.80 L145.40,200.80 L145.40,217.20 L147.00,217.20 L147.00,225.80 L150.00,225.80 L150.00,209.00 L151.20,209.00 L151.20,184.60 L152.90,184.60 L152.90,200.80 L155.20,200.80 L155.20,209.00 L157.50,209.00 L157.50,184.60 L161.00,184.60 L161.00,200.80 L163.30,200.80 L163.30,217.20 L164.40,217.20 L164.40,184.60 L166.20,184.60 L166.20,209.00 L169.00,209.00 L169.00,217.20 L171.30,217.20 L171.30,200.80 L172.50,200.80 L172.50,217.20 L177.10,217.20 L177.10,225.80 L179.40,225.80 L179.40,217.20 L184.00,217.20 L184.00,200.80 L186.30,200.80 L186.30,184.60 L188.70,184.60 L188.70,209.00 L191.00,209.00 L191.00,234.45 Z" fill="#000" stroke="none" stroke-width="1" stroke-linejoin="miter"/>
<path d="M26.60,303.20 L27.50,298.40 L29.80,296.40 L32.50,294.50 L34.40,290.50 L35.70,284.00 L37.00,274.80 L38.30,264.40 L39.40,255.20 L39.80,253.00 L40.30,253.00 L41.00,257.80 L41.90,267.00 L42.90,278.80 L44.00,286.60 L45.30,287.30 L46.80,284.70 L47.90,287.90 L48.80,294.50 L50.10,299.00 L52.70,300.30 L56.00,301.40 L59.90,303.20 Z" fill="#000" stroke="none" stroke-width="1" stroke-linejoin="miter"/>
<path d="M71.20,303.20 L71.20,297.00 L73.00,297.00 L73.00,296.20 L75.40,296.20 L75.40,303.20 Z" fill="#666" stroke="#000" stroke-width="0.9" stroke-linejoin="miter"/>
<path d="M75.90,303.20 L76.90,289.20 L78.00,269.60 L78.90,257.80 L79.50,253.00 L80.60,257.80 L81.50,269.60 L82.80,286.60 L84.10,299.70 L84.80,303.20 Z" fill="#fff" stroke="#000" stroke-width="1.2" stroke-linejoin="miter"/>
<path d="M134.40,303.20 L135.60,296.30 L136.60,296.30 L137.70,303.20 Z" fill="#777" stroke="#000" stroke-width="0.9" stroke-linejoin="miter"/>
<path d="M142.20,303.20 L142.20,297.60 L144.00,297.60 L144.00,298.60 L146.00,298.60 L146.00,297.60 L149.00,297.60 L149.00,298.80 L150.50,298.80 L150.50,297.60 L152.00,297.60 L152.00,292.50 L153.20,292.50 L153.20,297.60 L155.00,297.60 L155.00,299.00 L156.50,299.00 L156.50,297.60 L158.40,297.60 L158.40,292.50 L159.60,292.50 L159.60,297.60 L162.00,297.60 L162.80,297.40 L164.50,297.40 L164.50,298.50 L166.70,298.50 L166.70,303.20 Z" fill="#333" stroke="#000" stroke-width="0.6" stroke-linejoin="miter"/>
<path d="M174.40,303.20 L174.40,297.00 L175.40,297.00 L175.40,299.00 L177.00,299.00 L177.00,297.00 L181.20,297.00 L181.20,303.20 Z" fill="#333" stroke="#000" stroke-width="0.6" stroke-linejoin="miter"/>
<path d="M181.20,303.20 L181.70,288.20 L183.90,275.40 L185.40,253.20 L186.20,253.20 L187.60,266.30 L189.40,290.00 L190.90,303.20 Z" fill="#000" stroke="none" stroke-width="1" stroke-linejoin="miter"/>
<path d="M184.70,287.00 L185.30,259.00 L185.70,259.00 L185.80,283.00 Z" fill="#fff" stroke="none" stroke-width="1" stroke-linejoin="miter"/>
<text x="223.0" y="72.7" font-size="13" text-anchor="middle" transform="rotate(90 223.0 72.7)">ILN</text>
<text x="223.0" y="140.2" font-size="13" text-anchor="middle" transform="rotate(90 223.0 140.2)">MLN</text>
<text x="223.0" y="208.0" font-size="13" text-anchor="middle" transform="rotate(90 223.0 208.0)">PP</text>
<text x="223.0" y="278.7" font-size="13" text-anchor="middle" transform="rotate(90 223.0 278.7)">Spleen</text>
<path d="M10.4,328.4 H148" stroke="#000" stroke-width="1.9" fill="none"/>
<path d="M154.4,328.4 L143.9,323.4 L146.8,328.4 L143.9,333.5 Z" fill="#000"/>
<text x="169.3" y="331.5" font-size="10.5" font-weight="bold" text-anchor="start" fill="#000" >CFSE</text>
<text x="253.7" y="18.8" font-size="25.6" font-weight="bold" text-anchor="start" fill="#000" >B</text>
<text x="306.3" y="34" font-size="16" textLength="92" lengthAdjust="spacingAndGlyphs">Intravenous</text>
<text x="425.8" y="33.5" font-size="16" textLength="88.4" lengthAdjust="spacingAndGlyphs">Intragastric</text>
<rect x="306.9" y="42.0" width="91.10000000000002" height="144.8" fill="none" stroke="#888" stroke-width="1.3"/>
<text x="297.29999999999995" y="189.3" font-size="8.2" font-weight="bold" text-anchor="middle">10<tspan font-size="5.74" dy="-2.05">0</tspan></text>
<text x="297.29999999999995" y="153.10000000000002" font-size="8.2" font-weight="bold" text-anchor="middle">10<tspan font-size="5.74" dy="-2.05">1</tspan></text>
<text x="297.29999999999995" y="116.9" font-size="8.2" font-weight="bold" text-anchor="middle">10<tspan font-size="5.74" dy="-2.05">2</tspan></text>
<text x="297.29999999999995" y="80.7" font-size="8.2" font-weight="bold" text-anchor="middle">10<tspan font-size="5.74" dy="-2.05">3</tspan></text>
<text x="297.29999999999995" y="44.5" font-size="8.2" font-weight="bold" text-anchor="middle">10<tspan font-size="5.74" dy="-2.05">4</tspan></text>
<path d="M306.9,186.80 h-2 M306.9,150.60 h-2 M306.9,114.40 h-2 M306.9,78.20 h-2 M306.9,42.00 h-2 M337.2,186.8 v2 M367.3,186.8 v2" stroke="#888" stroke-width="1"/>
<rect x="427.5" y="43.1" width="90.5" height="144.9" fill="none" stroke="#888" stroke-width="1.3"/>
<text x="417.9" y="190.5" font-size="8.2" font-weight="bold" text-anchor="middle">10<tspan font-size="5.74" dy="-2.05">0</tspan></text>
<text x="417.9" y="154.275" font-size="8.2" font-weight="bold" text-anchor="middle">10<tspan font-size="5.74" dy="-2.05">1</tspan></text>
<text x="417.9" y="118.05" font-size="8.2" font-weight="bold" text-anchor="middle">10<tspan font-size="5.74" dy="-2.05">2</tspan></text>
<text x="417.9" y="81.82499999999999" font-size="8.2" font-weight="bold" text-anchor="middle">10<tspan font-size="5.74" dy="-2.05">3</tspan></text>
<text x="417.9" y="45.599999999999994" font-size="8.2" font-weight="bold" text-anchor="middle">10<tspan font-size="5.74" dy="-2.05">4</tspan></text>
<path d="M427.5,188.00 h-2 M427.5,151.78 h-2 M427.5,115.55 h-2 M427.5,79.32 h-2 M427.5,43.10 h-2 M457.6,188.0 v2 M487.6,188.0 v2" stroke="#888" stroke-width="1"/>
<text x="282.3" y="114.5" font-size="12.3" font-weight="bold" text-anchor="middle" transform="rotate(-90 282.3 114.5)" textLength="125.5" lengthAdjust="spacingAndGlyphs">Lytic Unit per Spleen</text>
<text x="337.0" y="201.2" font-size="10.5" font-weight="bold" text-anchor="middle" fill="#000" >PBS</text>
<text x="367.2" y="201.2" font-size="10.5" font-weight="bold" text-anchor="middle" fill="#000" >OVA</text>
<text x="457.7" y="202.3" font-size="10.5" font-weight="bold" text-anchor="middle" fill="#000" >PBS</text>
<text x="487.4" y="202.3" font-size="10.5" font-weight="bold" text-anchor="middle" fill="#000" >OVA</text>
<circle cx="337.4" cy="81.0" r="3.7" fill="none" stroke="#666" stroke-width="0.8"/>
<circle cx="337.4" cy="88.3" r="3.7" fill="none" stroke="#666" stroke-width="0.8"/>
<circle cx="337.4" cy="90.9" r="3.7" fill="none" stroke="#666" stroke-width="0.8"/>
<circle cx="337.4" cy="93.2" r="3.7" fill="none" stroke="#666" stroke-width="0.8"/>
<path d="M330.6,88.7 H345.2" stroke="#000" stroke-width="1.6"/>
<circle cx="367.4" cy="99.2" r="3.7" fill="none" stroke="#666" stroke-width="0.8"/>
<circle cx="367.4" cy="115.6" r="3.7" fill="none" stroke="#666" stroke-width="0.8"/>
<circle cx="367.4" cy="118.8" r="3.7" fill="none" stroke="#666" stroke-width="0.8"/>
<circle cx="367.4" cy="143.0" r="3.7" fill="none" stroke="#666" stroke-width="0.8"/>
<path d="M362.2,116.6 H376.8" stroke="#000" stroke-width="1.6"/>
<text x="380.3" y="126.8" font-size="18.5" font-weight="bold" text-anchor="start" fill="#000" >*</text>
<circle cx="457.7" cy="84.2" r="3.7" fill="none" stroke="#666" stroke-width="0.8"/>
<circle cx="457.7" cy="96.2" r="3.7" fill="none" stroke="#666" stroke-width="0.8"/>
<path d="M450.8,89.5 H465.8" stroke="#000" stroke-width="1.6"/>
<circle cx="487.6" cy="128.6" r="3.7" fill="none" stroke="#666" stroke-width="0.8"/>
<circle cx="487.6" cy="140.2" r="3.7" fill="none" stroke="#666" stroke-width="0.8"/>
<circle cx="487.6" cy="155.2" r="3.7" fill="none" stroke="#666" stroke-width="0.8"/>
<circle cx="487.6" cy="166.1" r="3.7" fill="none" stroke="#666" stroke-width="0.8"/>
<path d="M480.9,139.7 H495.4" stroke="#000" stroke-width="1.6"/>
<text x="497.6" y="145.6" font-size="18.5" font-weight="bold" text-anchor="start" fill="#000" >**</text>
<text x="254.2" y="233.3" font-size="25.5" font-weight="bold" text-anchor="start" fill="#000" >C</text>
<rect x="317.0" y="240.6" width="191.5" height="95.9" fill="none" stroke="#999" stroke-width="1"/>
<text x="313.0" y="340.1" font-size="10.2" font-weight="bold" text-anchor="end" fill="#000" >0</text>
<text x="313.0" y="308.1333333333333" font-size="10.2" font-weight="bold" text-anchor="end" fill="#000" >50</text>
<text x="313.0" y="276.1666666666667" font-size="10.2" font-weight="bold" text-anchor="end" fill="#000" >100</text>
<text x="313.0" y="244.19999999999996" font-size="10.2" font-weight="bold" text-anchor="end" fill="#000" >150</text>
<path d="M317.0,336.50 h-2 M317.0,304.53 h-2 M317.0,272.57 h-2 M317.0,240.60 h-2" stroke="#999" stroke-width="1"/>
<text x="285.5" y="289.3" font-size="9.2" font-weight="bold" text-anchor="middle" transform="rotate(-90 285.5 289.3)" textLength="141" lengthAdjust="spacingAndGlyphs">IFN&#947;-secreting cells/10<tspan font-size="6.5" dy="-3.5">6</tspan><tspan dy="3.5"> cells</tspan></text>
<rect x="344.1" y="334.90" width="11.5" height="1.60" fill="#000"/>
<rect x="355.6" y="335.86" width="11.5" height="0.64" fill="#fff" stroke="#999" stroke-width="0.8"/>
<path d="M388.05,273.21 V259.14 M386.05,259.14 h4" stroke="#888" stroke-width="0.9"/>
<rect x="382.3" y="273.21" width="11.5" height="63.29" fill="#000"/>
<path d="M399.55,330.11 V326.27 M397.55,326.27 h4" stroke="#888" stroke-width="0.9"/>
<rect x="393.8" y="330.11" width="11.5" height="6.39" fill="#fff" stroke="#999" stroke-width="0.8"/>
<path d="M425.95,328.19 V325.63 M423.95,325.63 h4" stroke="#888" stroke-width="0.9"/>
<rect x="420.2" y="328.19" width="11.5" height="8.31" fill="#000"/>
<rect x="431.7" y="335.22" width="11.5" height="1.28" fill="#fff" stroke="#999" stroke-width="0.8"/>
<path d="M464.35,333.30 V332.66 M462.35,332.66 h4" stroke="#888" stroke-width="0.9"/>
<rect x="458.6" y="333.30" width="11.5" height="3.20" fill="#000"/>
<rect x="470.1" y="335.22" width="11.5" height="1.28" fill="#fff" stroke="#999" stroke-width="0.8"/>
<rect x="438" y="257" width="19.4" height="4.4" fill="#000"/>
<rect x="438.4" y="268.9" width="18.8" height="3.8" fill="#fff" stroke="#999" stroke-width="0.8"/>
<text x="461.8" y="262.6" font-size="9.2" font-weight="bold" text-anchor="start" fill="#000" textLength="35.8" lengthAdjust="spacingAndGlyphs">+peptide</text>
<text x="461.8" y="274.4" font-size="9.2" font-weight="bold" text-anchor="start" fill="#000" textLength="35.8" lengthAdjust="spacingAndGlyphs">- peptide</text>
<text x="347.9" y="352.2" font-size="11" font-weight="bold" textLength="15.4" lengthAdjust="spacingAndGlyphs">Nil</text>
<text x="381.6" y="352.2" font-size="11" font-weight="bold" textLength="23.4" lengthAdjust="spacingAndGlyphs">PBS</text>
<text x="411.2" y="352.2" font-size="11" font-weight="bold" textLength="45.0" lengthAdjust="spacingAndGlyphs">i.v. OVA</text>
<text x="458.7" y="352.2" font-size="11" font-weight="bold" textLength="48.1" lengthAdjust="spacingAndGlyphs">i.g. OVA</text>
<text x="0.1" y="368.9" font-size="25.2" font-weight="bold" text-anchor="start" fill="#000" >D</text>
<text x="64.5" y="378.2" font-size="12.5" font-weight="bold" textLength="15.5" lengthAdjust="spacingAndGlyphs">Nil</text>
<path d="M40,460h21v1h-21zM62,460h1v1h-1zM64,460h1v1h-1zM67,460h1v1h-1zM69,460h2v1h-2zM74,460h1v1h-1zM77,460h3v1h-3zM81,460h11v1h-11zM40,459h23v1h-23zM64,459h1v1h-1zM71,459h1v1h-1zM74,459h19v1h-19zM40,458h31v1h-31zM73,458h1v1h-1zM76,458h19v1h-19zM40,457h22v1h-22zM64,457h3v1h-3zM70,457h1v1h-1zM72,457h1v1h-1zM74,457h2v1h-2zM77,457h17v1h-17zM97,457h1v1h-1zM40,456h24v1h-24zM65,456h2v1h-2zM69,456h1v1h-1zM71,456h1v1h-1zM75,456h3v1h-3zM79,456h14v1h-14zM40,455h26v1h-26zM67,455h2v1h-2zM70,455h1v1h-1zM76,455h1v1h-1zM78,455h17v1h-17zM40,454h22v1h-22zM63,454h3v1h-3zM67,454h2v1h-2zM74,454h2v1h-2zM77,454h15v1h-15zM40,453h17v1h-17zM58,453h13v1h-13zM76,453h2v1h-2zM79,453h15v1h-15zM40,452h26v1h-26zM68,452h1v1h-1zM70,452h4v1h-4zM75,452h18v1h-18zM95,452h1v1h-1zM40,451h26v1h-26zM67,451h3v1h-3zM71,451h1v1h-1zM74,451h2v1h-2zM77,451h14v1h-14zM92,451h1v1h-1zM40,450h25v1h-25zM67,450h2v1h-2zM70,450h1v1h-1zM73,450h2v1h-2zM76,450h20v1h-20zM40,449h25v1h-25zM66,449h2v1h-2zM75,449h1v1h-1zM77,449h16v1h-16zM96,449h1v1h-1zM40,448h28v1h-28zM69,448h2v1h-2zM73,448h17v1h-17zM91,448h2v1h-2zM95,448h1v1h-1zM40,447h28v1h-28zM69,447h4v1h-4zM74,447h1v1h-1zM76,447h18v1h-18zM95,447h1v1h-1zM40,446h25v1h-25zM66,446h3v1h-3zM72,446h2v1h-2zM76,446h1v1h-1zM78,446h13v1h-13zM92,446h2v1h-2zM96,446h1v1h-1zM40,445h27v1h-27zM75,445h1v1h-1zM77,445h17v1h-17zM40,444h18v1h-18zM59,444h9v1h-9zM70,444h1v1h-1zM76,444h12v1h-12zM89,444h1v1h-1zM91,444h1v1h-1zM40,443h23v1h-23zM64,443h2v1h-2zM71,443h1v1h-1zM75,443h1v1h-1zM77,443h2v1h-2zM80,443h9v1h-9zM91,443h2v1h-2zM40,442h23v1h-23zM64,442h1v1h-1zM66,442h1v1h-1zM69,442h2v1h-2zM76,442h1v1h-1zM78,442h14v1h-14zM40,441h13v1h-13zM54,441h10v1h-10zM65,441h2v1h-2zM76,441h2v1h-2zM79,441h10v1h-10zM90,441h1v1h-1zM40,440h10v1h-10zM51,440h13v1h-13zM65,440h1v1h-1zM67,440h1v1h-1zM69,440h2v1h-2zM74,440h1v1h-1zM79,440h1v1h-1zM81,440h8v1h-8zM90,440h1v1h-1zM40,439h9v1h-9zM50,439h1v1h-1zM52,439h3v1h-3zM57,439h5v1h-5zM66,439h1v1h-1zM76,439h1v1h-1zM78,439h1v1h-1zM81,439h3v1h-3zM86,439h2v1h-2zM89,439h1v1h-1zM91,439h1v1h-1zM40,438h1v1h-1zM42,438h4v1h-4zM48,438h6v1h-6zM55,438h4v1h-4zM61,438h1v1h-1zM63,438h1v1h-1zM71,438h2v1h-2zM78,438h1v1h-1zM80,438h3v1h-3zM85,438h1v1h-1zM87,438h1v1h-1zM90,438h1v1h-1zM92,438h1v1h-1zM41,437h2v1h-2zM44,437h2v1h-2zM48,437h8v1h-8zM57,437h2v1h-2zM60,437h4v1h-4zM78,437h3v1h-3zM82,437h1v1h-1zM85,437h2v1h-2zM88,437h1v1h-1zM91,437h1v1h-1zM42,436h12v1h-12zM59,436h2v1h-2zM62,436h1v1h-1zM64,436h1v1h-1zM76,436h1v1h-1zM80,436h2v1h-2zM84,436h1v1h-1zM86,436h3v1h-3zM40,435h2v1h-2zM43,435h3v1h-3zM47,435h1v1h-1zM49,435h1v1h-1zM51,435h2v1h-2zM54,435h6v1h-6zM63,435h1v1h-1zM67,435h1v1h-1zM76,435h1v1h-1zM82,435h1v1h-1zM85,435h1v1h-1zM43,434h1v1h-1zM45,434h1v1h-1zM51,434h2v1h-2zM56,434h1v1h-1zM58,434h1v1h-1zM63,434h1v1h-1zM76,434h1v1h-1zM81,434h3v1h-3zM43,433h2v1h-2zM51,433h1v1h-1zM62,433h1v1h-1zM64,433h1v1h-1zM66,433h1v1h-1zM80,433h1v1h-1zM86,433h1v1h-1zM43,432h2v1h-2zM52,432h1v1h-1zM57,432h1v1h-1zM61,432h1v1h-1zM64,432h1v1h-1zM84,432h1v1h-1zM88,432h1v1h-1zM42,431h1v1h-1zM46,431h1v1h-1zM79,431h1v1h-1zM44,430h1v1h-1zM50,430h1v1h-1zM55,430h1v1h-1zM58,430h2v1h-2zM53,429h1v1h-1zM57,429h1v1h-1zM64,429h1v1h-1zM71,429h1v1h-1zM42,428h1v1h-1zM49,428h2v1h-2zM57,428h1v1h-1zM59,428h1v1h-1zM46,427h1v1h-1zM48,427h1v1h-1zM57,427h4v1h-4zM54,426h1v1h-1zM56,426h2v1h-2zM62,426h1v1h-1zM69,426h1v1h-1zM50,425h2v1h-2zM53,425h1v1h-1zM57,425h2v1h-2zM48,424h1v1h-1zM55,424h2v1h-2zM62,424h1v1h-1zM69,424h1v1h-1zM59,423h2v1h-2zM63,423h1v1h-1zM52,422h1v1h-1zM56,422h1v1h-1zM62,422h1v1h-1zM59,421h1v1h-1zM63,421h1v1h-1zM64,420h1v1h-1zM56,419h2v1h-2zM59,419h1v1h-1zM63,419h1v1h-1zM52,418h1v1h-1zM57,418h2v1h-2zM63,418h1v1h-1zM59,417h1v1h-1zM69,417h1v1h-1zM52,416h1v1h-1zM54,416h2v1h-2zM59,415h1v1h-1zM64,415h1v1h-1zM56,414h1v1h-1zM64,414h1v1h-1zM66,414h1v1h-1zM45,413h1v1h-1zM58,413h1v1h-1zM51,412h1v1h-1zM57,411h2v1h-2zM58,410h1v1h-1zM58,408h1v1h-1zM68,408h1v1h-1z" fill="#000"/>
<rect x="39.4" y="391.5" width="68.1" height="69.9" fill="none" stroke="#000" stroke-width="1.3"/>
<rect x="68.75" y="399.7" width="23.85" height="28.3" fill="none" stroke="#888" stroke-width="1.1"/>
<rect x="42.4" y="392.3" width="46" height="6.6" fill="#fff"/>
<text x="42.4" y="398.2" font-size="8.1" font-weight="bold" textLength="44" lengthAdjust="spacingAndGlyphs">0.17 &#177; 0.01</text>
<path d="M39.40,461.4 v2.4 M39.4,461.40 h-2.4 M44.53,461.4 v1.5 M39.4,456.14 h-1.5 M47.52,461.4 v1.5 M39.4,453.06 h-1.5 M49.65,461.4 v1.5 M39.4,450.88 h-1.5 M51.30,461.4 v1.5 M39.4,449.19 h-1.5 M52.65,461.4 v1.5 M39.4,447.80 h-1.5 M53.79,461.4 v1.5 M39.4,446.63 h-1.5 M54.78,461.4 v1.5 M39.4,445.62 h-1.5 M55.65,461.4 v1.5 M39.4,444.72 h-1.5 M56.42,461.4 v2.4 M39.4,443.92 h-2.4 M61.55,461.4 v1.5 M39.4,438.66 h-1.5 M64.55,461.4 v1.5 M39.4,435.59 h-1.5 M66.68,461.4 v1.5 M39.4,433.40 h-1.5 M68.32,461.4 v1.5 M39.4,431.71 h-1.5 M69.67,461.4 v1.5 M39.4,430.33 h-1.5 M70.81,461.4 v1.5 M39.4,429.16 h-1.5 M71.80,461.4 v1.5 M39.4,428.14 h-1.5 M72.67,461.4 v1.5 M39.4,427.25 h-1.5 M73.45,461.4 v2.4 M39.4,426.45 h-2.4 M78.58,461.4 v1.5 M39.4,421.19 h-1.5 M81.57,461.4 v1.5 M39.4,418.11 h-1.5 M83.70,461.4 v1.5 M39.4,415.93 h-1.5 M85.35,461.4 v1.5 M39.4,414.24 h-1.5 M86.70,461.4 v1.5 M39.4,412.85 h-1.5 M87.84,461.4 v1.5 M39.4,411.68 h-1.5 M88.83,461.4 v1.5 M39.4,410.67 h-1.5 M89.70,461.4 v1.5 M39.4,409.77 h-1.5 M90.47,461.4 v2.4 M39.4,408.98 h-2.4 M95.60,461.4 v1.5 M39.4,403.71 h-1.5 M98.60,461.4 v1.5 M39.4,400.64 h-1.5 M100.73,461.4 v1.5 M39.4,398.45 h-1.5 M102.37,461.4 v1.5 M39.4,396.76 h-1.5 M103.72,461.4 v1.5 M39.4,395.38 h-1.5 M104.86,461.4 v1.5 M39.4,394.21 h-1.5 M105.85,461.4 v1.5 M39.4,393.19 h-1.5 M106.72,461.4 v1.5 M39.4,392.30 h-1.5 M107.50,461.4 v2.4 M39.4,391.5 h-2.4" stroke="#000" stroke-width="0.9"/>
<text x="38.40" y="471.5" font-size="7.1" font-weight="bold" stroke="#000" stroke-width="0.3" text-anchor="middle" textLength="5.8" lengthAdjust="spacingAndGlyphs">10</text>
<text x="41.30" y="468.3" font-size="5.4" font-weight="bold" stroke="#000" stroke-width="0.15">0</text>
<text x="33.60" y="461.30" font-size="7.3" font-weight="bold" stroke="#000" stroke-width="0.3" text-anchor="middle" textLength="5.5" lengthAdjust="spacingAndGlyphs" transform="rotate(-90 33.60 461.30)">10</text>
<text x="30.70" y="456.50" font-size="6.2" font-weight="bold" stroke="#000" stroke-width="0.15" transform="rotate(-90 30.70 456.50)">0</text>
<text x="55.06" y="471.5" font-size="7.1" font-weight="bold" stroke="#000" stroke-width="0.3" text-anchor="middle" textLength="5.8" lengthAdjust="spacingAndGlyphs">10</text>
<text x="57.96" y="468.3" font-size="5.4" font-weight="bold" stroke="#000" stroke-width="0.15">1</text>
<text x="33.60" y="444.50" font-size="7.3" font-weight="bold" stroke="#000" stroke-width="0.3" text-anchor="middle" textLength="5.5" lengthAdjust="spacingAndGlyphs" transform="rotate(-90 33.60 444.50)">10</text>
<text x="30.70" y="439.70" font-size="6.2" font-weight="bold" stroke="#000" stroke-width="0.15" transform="rotate(-90 30.70 439.70)">1</text>
<text x="71.72" y="471.5" font-size="7.1" font-weight="bold" stroke="#000" stroke-width="0.3" text-anchor="middle" textLength="5.8" lengthAdjust="spacingAndGlyphs">10</text>
<text x="74.62" y="468.3" font-size="5.4" font-weight="bold" stroke="#000" stroke-width="0.15">2</text>
<text x="33.60" y="427.70" font-size="7.3" font-weight="bold" stroke="#000" stroke-width="0.3" text-anchor="middle" textLength="5.5" lengthAdjust="spacingAndGlyphs" transform="rotate(-90 33.60 427.70)">10</text>
<text x="30.70" y="422.90" font-size="6.2" font-weight="bold" stroke="#000" stroke-width="0.15" transform="rotate(-90 30.70 422.90)">2</text>
<text x="88.38" y="471.5" font-size="7.1" font-weight="bold" stroke="#000" stroke-width="0.3" text-anchor="middle" textLength="5.8" lengthAdjust="spacingAndGlyphs">10</text>
<text x="91.28" y="468.3" font-size="5.4" font-weight="bold" stroke="#000" stroke-width="0.15">3</text>
<text x="33.60" y="410.90" font-size="7.3" font-weight="bold" stroke="#000" stroke-width="0.3" text-anchor="middle" textLength="5.5" lengthAdjust="spacingAndGlyphs" transform="rotate(-90 33.60 410.90)">10</text>
<text x="30.70" y="406.10" font-size="6.2" font-weight="bold" stroke="#000" stroke-width="0.15" transform="rotate(-90 30.70 406.10)">3</text>
<text x="105.04" y="471.5" font-size="7.1" font-weight="bold" stroke="#000" stroke-width="0.3" text-anchor="middle" textLength="5.8" lengthAdjust="spacingAndGlyphs">10</text>
<text x="107.94" y="468.3" font-size="5.4" font-weight="bold" stroke="#000" stroke-width="0.15">4</text>
<text x="33.60" y="394.10" font-size="7.3" font-weight="bold" stroke="#000" stroke-width="0.3" text-anchor="middle" textLength="5.5" lengthAdjust="spacingAndGlyphs" transform="rotate(-90 33.60 394.10)">10</text>
<text x="30.70" y="389.30" font-size="6.2" font-weight="bold" stroke="#000" stroke-width="0.15" transform="rotate(-90 30.70 389.30)">4</text>
<text x="72.8" y="477.9" font-size="6.2" font-weight="bold" stroke="#000" stroke-width="0.2" text-anchor="middle">FL1-H</text>
<text x="24.2" y="427.2" font-size="6.2" font-weight="bold" stroke="#000" stroke-width="0.2" text-anchor="middle" transform="rotate(-90 24.2 427.2)">FL2-H</text>
<text x="147.5" y="378.2" font-size="12.5" font-weight="bold" textLength="26.3" lengthAdjust="spacingAndGlyphs">PBS</text>
<path d="M130,460h25v1h-25zM156,460h1v1h-1zM159,460h3v1h-3zM164,460h1v1h-1zM167,460h13v1h-13zM130,459h22v1h-22zM153,459h3v1h-3zM158,459h2v1h-2zM162,459h1v1h-1zM165,459h1v1h-1zM168,459h9v1h-9zM178,459h6v1h-6zM130,458h25v1h-25zM156,458h4v1h-4zM163,458h1v1h-1zM165,458h1v1h-1zM167,458h12v1h-12zM180,458h3v1h-3zM130,457h25v1h-25zM156,457h5v1h-5zM165,457h1v1h-1zM167,457h11v1h-11zM179,457h1v1h-1zM182,457h1v1h-1zM184,457h1v1h-1zM130,456h25v1h-25zM156,456h5v1h-5zM162,456h2v1h-2zM165,456h1v1h-1zM168,456h12v1h-12zM182,456h1v1h-1zM130,455h27v1h-27zM158,455h5v1h-5zM165,455h1v1h-1zM167,455h13v1h-13zM182,455h3v1h-3zM130,454h26v1h-26zM157,454h6v1h-6zM164,454h1v1h-1zM166,454h16v1h-16zM183,454h1v1h-1zM185,454h1v1h-1zM130,453h28v1h-28zM159,453h1v1h-1zM162,453h1v1h-1zM165,453h16v1h-16zM183,453h1v1h-1zM185,453h1v1h-1zM130,452h29v1h-29zM160,452h4v1h-4zM167,452h13v1h-13zM181,452h1v1h-1zM184,452h1v1h-1zM130,451h29v1h-29zM162,451h1v1h-1zM164,451h1v1h-1zM166,451h1v1h-1zM168,451h12v1h-12zM181,451h4v1h-4zM130,450h25v1h-25zM156,450h4v1h-4zM161,450h3v1h-3zM165,450h1v1h-1zM168,450h13v1h-13zM182,450h1v1h-1zM130,449h29v1h-29zM161,449h1v1h-1zM165,449h17v1h-17zM130,448h51v1h-51zM130,447h31v1h-31zM167,447h2v1h-2zM171,447h9v1h-9zM181,447h2v1h-2zM130,446h27v1h-27zM159,446h4v1h-4zM164,446h2v1h-2zM167,446h13v1h-13zM130,445h29v1h-29zM160,445h1v1h-1zM165,445h2v1h-2zM169,445h11v1h-11zM182,445h1v1h-1zM130,444h32v1h-32zM166,444h6v1h-6zM173,444h6v1h-6zM181,444h2v1h-2zM130,443h25v1h-25zM156,443h3v1h-3zM162,443h1v1h-1zM165,443h3v1h-3zM170,443h2v1h-2zM173,443h5v1h-5zM179,443h1v1h-1zM130,442h27v1h-27zM158,442h2v1h-2zM163,442h1v1h-1zM165,442h1v1h-1zM169,442h11v1h-11zM181,442h1v1h-1zM130,441h1v1h-1zM132,441h30v1h-30zM163,441h1v1h-1zM168,441h1v1h-1zM172,441h4v1h-4zM177,441h2v1h-2zM180,441h1v1h-1zM188,441h1v1h-1zM130,440h6v1h-6zM137,440h5v1h-5zM143,440h10v1h-10zM154,440h3v1h-3zM160,440h1v1h-1zM163,440h1v1h-1zM165,440h1v1h-1zM167,440h1v1h-1zM169,440h2v1h-2zM172,440h1v1h-1zM174,440h4v1h-4zM130,439h11v1h-11zM142,439h8v1h-8zM151,439h8v1h-8zM161,439h1v1h-1zM164,439h3v1h-3zM171,439h2v1h-2zM180,439h1v1h-1zM130,438h1v1h-1zM132,438h9v1h-9zM142,438h3v1h-3zM146,438h11v1h-11zM159,438h1v1h-1zM161,438h1v1h-1zM164,438h1v1h-1zM168,438h1v1h-1zM171,438h1v1h-1zM173,438h2v1h-2zM177,438h2v1h-2zM183,438h1v1h-1zM130,437h2v1h-2zM133,437h4v1h-4zM138,437h1v1h-1zM140,437h1v1h-1zM142,437h10v1h-10zM153,437h2v1h-2zM157,437h1v1h-1zM162,437h1v1h-1zM171,437h1v1h-1zM175,437h3v1h-3zM130,436h2v1h-2zM133,436h2v1h-2zM137,436h2v1h-2zM140,436h2v1h-2zM143,436h1v1h-1zM145,436h1v1h-1zM148,436h1v1h-1zM151,436h2v1h-2zM157,436h1v1h-1zM159,436h2v1h-2zM170,436h1v1h-1zM175,436h2v1h-2zM179,436h1v1h-1zM130,435h4v1h-4zM135,435h5v1h-5zM141,435h6v1h-6zM148,435h2v1h-2zM151,435h1v1h-1zM153,435h4v1h-4zM162,435h2v1h-2zM174,435h1v1h-1zM131,434h1v1h-1zM135,434h1v1h-1zM137,434h1v1h-1zM139,434h2v1h-2zM142,434h2v1h-2zM147,434h2v1h-2zM151,434h3v1h-3zM155,434h1v1h-1zM158,434h1v1h-1zM162,434h1v1h-1zM166,434h1v1h-1zM131,433h3v1h-3zM136,433h1v1h-1zM139,433h1v1h-1zM143,433h5v1h-5zM150,433h1v1h-1zM154,433h1v1h-1zM158,433h2v1h-2zM132,432h1v1h-1zM135,432h1v1h-1zM138,432h1v1h-1zM141,432h1v1h-1zM143,432h1v1h-1zM145,432h4v1h-4zM151,432h3v1h-3zM155,432h1v1h-1zM157,432h1v1h-1zM168,432h1v1h-1zM171,432h1v1h-1zM183,432h1v1h-1zM134,431h2v1h-2zM138,431h5v1h-5zM144,431h3v1h-3zM148,431h2v1h-2zM153,431h3v1h-3zM158,431h1v1h-1zM170,431h1v1h-1zM131,430h1v1h-1zM139,430h2v1h-2zM145,430h1v1h-1zM150,430h1v1h-1zM155,430h1v1h-1zM161,430h1v1h-1zM137,429h2v1h-2zM140,429h2v1h-2zM145,429h1v1h-1zM147,429h1v1h-1zM149,429h1v1h-1zM151,429h1v1h-1zM154,429h1v1h-1zM135,428h2v1h-2zM142,428h2v1h-2zM145,428h2v1h-2zM149,428h1v1h-1zM153,428h1v1h-1zM155,428h1v1h-1zM161,428h1v1h-1zM135,427h1v1h-1zM137,427h1v1h-1zM140,427h1v1h-1zM146,427h1v1h-1zM150,427h1v1h-1zM136,426h1v1h-1zM138,426h1v1h-1zM142,426h1v1h-1zM144,426h1v1h-1zM148,426h2v1h-2zM151,426h2v1h-2zM155,426h1v1h-1zM178,426h1v1h-1zM137,425h1v1h-1zM139,425h1v1h-1zM144,425h1v1h-1zM147,425h1v1h-1zM155,425h1v1h-1zM157,425h1v1h-1zM130,424h1v1h-1zM134,424h1v1h-1zM140,424h1v1h-1zM142,424h1v1h-1zM144,424h2v1h-2zM148,424h1v1h-1zM156,424h1v1h-1zM166,424h1v1h-1zM135,423h1v1h-1zM142,423h1v1h-1zM145,423h1v1h-1zM148,423h1v1h-1zM153,423h2v1h-2zM167,423h2v1h-2zM138,422h2v1h-2zM141,422h1v1h-1zM144,422h1v1h-1zM146,422h3v1h-3zM159,422h1v1h-1zM171,422h1v1h-1zM173,422h1v1h-1zM176,422h1v1h-1zM134,421h1v1h-1zM144,421h1v1h-1zM150,421h1v1h-1zM155,421h1v1h-1zM171,421h1v1h-1zM176,421h1v1h-1zM136,420h1v1h-1zM138,420h1v1h-1zM140,420h1v1h-1zM143,420h1v1h-1zM145,420h1v1h-1zM147,420h1v1h-1zM149,420h3v1h-3zM155,420h1v1h-1zM172,420h1v1h-1zM130,419h1v1h-1zM136,419h1v1h-1zM146,419h1v1h-1zM150,419h2v1h-2zM157,419h1v1h-1zM159,419h1v1h-1zM141,418h1v1h-1zM146,418h3v1h-3zM159,418h1v1h-1zM172,418h1v1h-1zM174,418h2v1h-2zM184,418h1v1h-1zM132,417h1v1h-1zM134,417h1v1h-1zM143,417h1v1h-1zM145,417h2v1h-2zM152,417h1v1h-1zM154,417h1v1h-1zM170,417h1v1h-1zM174,417h1v1h-1zM179,417h1v1h-1zM132,416h1v1h-1zM134,416h1v1h-1zM139,416h2v1h-2zM148,416h1v1h-1zM150,416h1v1h-1zM161,416h1v1h-1zM173,416h1v1h-1zM167,415h1v1h-1zM175,415h1v1h-1zM148,414h1v1h-1zM151,414h1v1h-1zM157,414h1v1h-1zM174,414h1v1h-1zM130,413h1v1h-1zM134,413h1v1h-1zM140,413h1v1h-1zM144,413h3v1h-3zM149,413h1v1h-1zM154,413h1v1h-1zM161,413h1v1h-1zM163,413h1v1h-1zM169,413h1v1h-1zM174,413h1v1h-1zM150,412h1v1h-1zM153,412h1v1h-1zM155,412h1v1h-1zM167,412h1v1h-1zM169,412h1v1h-1zM172,412h1v1h-1zM176,412h1v1h-1zM170,411h1v1h-1zM177,411h1v1h-1zM137,410h1v1h-1zM139,410h1v1h-1zM142,410h1v1h-1zM145,410h1v1h-1zM154,410h1v1h-1zM163,410h1v1h-1zM172,410h2v1h-2zM183,410h1v1h-1zM138,409h1v1h-1zM145,409h1v1h-1zM150,409h3v1h-3zM168,409h1v1h-1zM170,409h1v1h-1zM177,409h1v1h-1zM179,409h1v1h-1zM149,408h1v1h-1zM158,408h1v1h-1zM172,408h2v1h-2zM152,407h1v1h-1zM166,407h1v1h-1zM171,407h1v1h-1zM174,407h1v1h-1zM176,407h1v1h-1zM178,407h1v1h-1zM139,405h1v1h-1zM146,405h2v1h-2zM140,404h1v1h-1zM145,404h1v1h-1zM162,404h1v1h-1zM174,404h1v1h-1zM150,403h1v1h-1zM169,403h1v1h-1zM133,400h1v1h-1zM149,400h1v1h-1zM154,400h1v1h-1zM163,400h1v1h-1zM177,400h1v1h-1zM138,393h1v1h-1zM172,393h1v1h-1z" fill="#000"/>
<rect x="129.4" y="391.5" width="68.1" height="69.9" fill="none" stroke="#000" stroke-width="1.3"/>
<rect x="158.75" y="399.7" width="23.85" height="28.3" fill="none" stroke="#888" stroke-width="1.1"/>
<rect x="132.4" y="392.3" width="46" height="6.6" fill="#fff"/>
<text x="132.4" y="398.2" font-size="8.1" font-weight="bold" textLength="44" lengthAdjust="spacingAndGlyphs">2.30 &#177; 0.39</text>
<path d="M129.40,461.4 v2.4 M129.4,461.40 h-2.4 M134.53,461.4 v1.5 M129.4,456.14 h-1.5 M137.52,461.4 v1.5 M129.4,453.06 h-1.5 M139.65,461.4 v1.5 M129.4,450.88 h-1.5 M141.30,461.4 v1.5 M129.4,449.19 h-1.5 M142.65,461.4 v1.5 M129.4,447.80 h-1.5 M143.79,461.4 v1.5 M129.4,446.63 h-1.5 M144.78,461.4 v1.5 M129.4,445.62 h-1.5 M145.65,461.4 v1.5 M129.4,444.72 h-1.5 M146.43,461.4 v2.4 M129.4,443.92 h-2.4 M151.55,461.4 v1.5 M129.4,438.66 h-1.5 M154.55,461.4 v1.5 M129.4,435.59 h-1.5 M156.68,461.4 v1.5 M129.4,433.40 h-1.5 M158.32,461.4 v1.5 M129.4,431.71 h-1.5 M159.67,461.4 v1.5 M129.4,430.33 h-1.5 M160.81,461.4 v1.5 M129.4,429.16 h-1.5 M161.80,461.4 v1.5 M129.4,428.14 h-1.5 M162.67,461.4 v1.5 M129.4,427.25 h-1.5 M163.45,461.4 v2.4 M129.4,426.45 h-2.4 M168.58,461.4 v1.5 M129.4,421.19 h-1.5 M171.57,461.4 v1.5 M129.4,418.11 h-1.5 M173.70,461.4 v1.5 M129.4,415.93 h-1.5 M175.35,461.4 v1.5 M129.4,414.24 h-1.5 M176.70,461.4 v1.5 M129.4,412.85 h-1.5 M177.84,461.4 v1.5 M129.4,411.68 h-1.5 M178.83,461.4 v1.5 M129.4,410.67 h-1.5 M179.70,461.4 v1.5 M129.4,409.77 h-1.5 M180.47,461.4 v2.4 M129.4,408.98 h-2.4 M185.60,461.4 v1.5 M129.4,403.71 h-1.5 M188.60,461.4 v1.5 M129.4,400.64 h-1.5 M190.73,461.4 v1.5 M129.4,398.45 h-1.5 M192.37,461.4 v1.5 M129.4,396.76 h-1.5 M193.72,461.4 v1.5 M129.4,395.38 h-1.5 M194.86,461.4 v1.5 M129.4,394.21 h-1.5 M195.85,461.4 v1.5 M129.4,393.19 h-1.5 M196.72,461.4 v1.5 M129.4,392.30 h-1.5 M197.50,461.4 v2.4 M129.4,391.5 h-2.4" stroke="#000" stroke-width="0.9"/>
<text x="128.40" y="471.5" font-size="7.1" font-weight="bold" stroke="#000" stroke-width="0.3" text-anchor="middle" textLength="5.8" lengthAdjust="spacingAndGlyphs">10</text>
<text x="131.30" y="468.3" font-size="5.4" font-weight="bold" stroke="#000" stroke-width="0.15">0</text>
<text x="123.60" y="461.30" font-size="7.3" font-weight="bold" stroke="#000" stroke-width="0.3" text-anchor="middle" textLength="5.5" lengthAdjust="spacingAndGlyphs" transform="rotate(-90 123.60 461.30)">10</text>
<text x="120.70" y="456.50" font-size="6.2" font-weight="bold" stroke="#000" stroke-width="0.15" transform="rotate(-90 120.70 456.50)">0</text>
<text x="145.06" y="471.5" font-size="7.1" font-weight="bold" stroke="#000" stroke-width="0.3" text-anchor="middle" textLength="5.8" lengthAdjust="spacingAndGlyphs">10</text>
<text x="147.96" y="468.3" font-size="5.4" font-weight="bold" stroke="#000" stroke-width="0.15">1</text>
<text x="123.60" y="444.50" font-size="7.3" font-weight="bold" stroke="#000" stroke-width="0.3" text-anchor="middle" textLength="5.5" lengthAdjust="spacingAndGlyphs" transform="rotate(-90 123.60 444.50)">10</text>
<text x="120.70" y="439.70" font-size="6.2" font-weight="bold" stroke="#000" stroke-width="0.15" transform="rotate(-90 120.70 439.70)">1</text>
<text x="161.72" y="471.5" font-size="7.1" font-weight="bold" stroke="#000" stroke-width="0.3" text-anchor="middle" textLength="5.8" lengthAdjust="spacingAndGlyphs">10</text>
<text x="164.62" y="468.3" font-size="5.4" font-weight="bold" stroke="#000" stroke-width="0.15">2</text>
<text x="123.60" y="427.70" font-size="7.3" font-weight="bold" stroke="#000" stroke-width="0.3" text-anchor="middle" textLength="5.5" lengthAdjust="spacingAndGlyphs" transform="rotate(-90 123.60 427.70)">10</text>
<text x="120.70" y="422.90" font-size="6.2" font-weight="bold" stroke="#000" stroke-width="0.15" transform="rotate(-90 120.70 422.90)">2</text>
<text x="178.38" y="471.5" font-size="7.1" font-weight="bold" stroke="#000" stroke-width="0.3" text-anchor="middle" textLength="5.8" lengthAdjust="spacingAndGlyphs">10</text>
<text x="181.28" y="468.3" font-size="5.4" font-weight="bold" stroke="#000" stroke-width="0.15">3</text>
<text x="123.60" y="410.90" font-size="7.3" font-weight="bold" stroke="#000" stroke-width="0.3" text-anchor="middle" textLength="5.5" lengthAdjust="spacingAndGlyphs" transform="rotate(-90 123.60 410.90)">10</text>
<text x="120.70" y="406.10" font-size="6.2" font-weight="bold" stroke="#000" stroke-width="0.15" transform="rotate(-90 120.70 406.10)">3</text>
<text x="195.04" y="471.5" font-size="7.1" font-weight="bold" stroke="#000" stroke-width="0.3" text-anchor="middle" textLength="5.8" lengthAdjust="spacingAndGlyphs">10</text>
<text x="197.94" y="468.3" font-size="5.4" font-weight="bold" stroke="#000" stroke-width="0.15">4</text>
<text x="123.60" y="394.10" font-size="7.3" font-weight="bold" stroke="#000" stroke-width="0.3" text-anchor="middle" textLength="5.5" lengthAdjust="spacingAndGlyphs" transform="rotate(-90 123.60 394.10)">10</text>
<text x="120.70" y="389.30" font-size="6.2" font-weight="bold" stroke="#000" stroke-width="0.15" transform="rotate(-90 120.70 389.30)">4</text>
<text x="162.8" y="477.9" font-size="6.2" font-weight="bold" stroke="#000" stroke-width="0.2" text-anchor="middle">FL1-H</text>
<text x="229.2" y="378.2" font-size="12.5" font-weight="bold" textLength="50.4" lengthAdjust="spacingAndGlyphs">i.v. OVA</text>
<path d="M220,460h31v1h-31zM257,460h12v1h-12zM270,460h2v1h-2zM220,459h29v1h-29zM251,459h1v1h-1zM254,459h3v1h-3zM258,459h1v1h-1zM261,459h9v1h-9zM271,459h2v1h-2zM274,459h1v1h-1zM220,458h26v1h-26zM247,458h4v1h-4zM253,458h4v1h-4zM258,458h1v1h-1zM260,458h15v1h-15zM277,458h1v1h-1zM220,457h28v1h-28zM250,457h1v1h-1zM253,457h1v1h-1zM256,457h19v1h-19zM220,456h31v1h-31zM252,456h1v1h-1zM255,456h2v1h-2zM258,456h16v1h-16zM220,455h33v1h-33zM254,455h4v1h-4zM259,455h14v1h-14zM274,455h1v1h-1zM220,454h31v1h-31zM252,454h2v1h-2zM255,454h20v1h-20zM276,454h1v1h-1zM220,453h30v1h-30zM251,453h4v1h-4zM256,453h19v1h-19zM276,453h1v1h-1zM220,452h21v1h-21zM242,452h10v1h-10zM253,452h2v1h-2zM258,452h17v1h-17zM220,451h30v1h-30zM251,451h5v1h-5zM257,451h18v1h-18zM276,451h1v1h-1zM220,450h28v1h-28zM250,450h1v1h-1zM253,450h2v1h-2zM257,450h16v1h-16zM277,450h1v1h-1zM220,449h35v1h-35zM257,449h18v1h-18zM220,448h32v1h-32zM253,448h1v1h-1zM255,448h1v1h-1zM257,448h16v1h-16zM220,447h29v1h-29zM251,447h2v1h-2zM256,447h17v1h-17zM274,447h3v1h-3zM220,446h29v1h-29zM252,446h1v1h-1zM254,446h1v1h-1zM257,446h16v1h-16zM274,446h1v1h-1zM276,446h1v1h-1zM220,445h23v1h-23zM244,445h5v1h-5zM252,445h1v1h-1zM254,445h1v1h-1zM257,445h1v1h-1zM260,445h14v1h-14zM220,444h29v1h-29zM251,444h1v1h-1zM253,444h1v1h-1zM256,444h1v1h-1zM258,444h1v1h-1zM261,444h13v1h-13zM275,444h1v1h-1zM220,443h24v1h-24zM245,443h2v1h-2zM248,443h2v1h-2zM252,443h2v1h-2zM258,443h16v1h-16zM275,443h1v1h-1zM220,442h23v1h-23zM244,442h3v1h-3zM248,442h1v1h-1zM250,442h1v1h-1zM252,442h1v1h-1zM257,442h1v1h-1zM260,442h8v1h-8zM269,442h6v1h-6zM277,442h1v1h-1zM220,441h30v1h-30zM255,441h2v1h-2zM259,441h13v1h-13zM220,440h20v1h-20zM241,440h5v1h-5zM248,440h2v1h-2zM251,440h3v1h-3zM257,440h7v1h-7zM265,440h6v1h-6zM272,440h1v1h-1zM221,439h19v1h-19zM241,439h4v1h-4zM246,439h1v1h-1zM249,439h2v1h-2zM258,439h1v1h-1zM264,439h2v1h-2zM268,439h2v1h-2zM271,439h1v1h-1zM220,438h8v1h-8zM229,438h3v1h-3zM233,438h2v1h-2zM236,438h2v1h-2zM240,438h6v1h-6zM247,438h1v1h-1zM253,438h1v1h-1zM262,438h1v1h-1zM264,438h6v1h-6zM273,438h2v1h-2zM221,437h15v1h-15zM237,437h1v1h-1zM239,437h1v1h-1zM241,437h3v1h-3zM245,437h2v1h-2zM250,437h2v1h-2zM262,437h1v1h-1zM265,437h2v1h-2zM269,437h2v1h-2zM273,437h1v1h-1zM221,436h4v1h-4zM226,436h6v1h-6zM233,436h3v1h-3zM237,436h1v1h-1zM239,436h3v1h-3zM244,436h1v1h-1zM258,436h1v1h-1zM261,436h1v1h-1zM268,436h1v1h-1zM221,435h4v1h-4zM227,435h9v1h-9zM240,435h2v1h-2zM245,435h1v1h-1zM247,435h1v1h-1zM220,434h1v1h-1zM222,434h2v1h-2zM225,434h2v1h-2zM230,434h8v1h-8zM242,434h2v1h-2zM248,434h1v1h-1zM264,434h3v1h-3zM221,433h1v1h-1zM224,433h3v1h-3zM228,433h3v1h-3zM232,433h3v1h-3zM237,433h1v1h-1zM243,433h1v1h-1zM250,433h1v1h-1zM261,433h1v1h-1zM270,433h1v1h-1zM222,432h1v1h-1zM226,432h1v1h-1zM228,432h1v1h-1zM231,432h9v1h-9zM245,432h1v1h-1zM265,432h1v1h-1zM220,431h1v1h-1zM223,431h1v1h-1zM225,431h1v1h-1zM229,431h1v1h-1zM233,431h2v1h-2zM236,431h2v1h-2zM239,431h1v1h-1zM244,431h1v1h-1zM246,431h1v1h-1zM261,431h1v1h-1zM223,430h1v1h-1zM228,430h3v1h-3zM235,430h1v1h-1zM239,430h1v1h-1zM244,430h1v1h-1zM223,429h1v1h-1zM225,429h1v1h-1zM234,429h1v1h-1zM240,429h1v1h-1zM228,427h1v1h-1zM232,427h1v1h-1zM235,427h1v1h-1zM242,427h1v1h-1zM254,427h1v1h-1zM220,426h1v1h-1zM227,426h1v1h-1zM233,426h2v1h-2zM258,426h1v1h-1zM231,425h1v1h-1zM242,425h1v1h-1zM259,425h1v1h-1zM261,425h1v1h-1zM223,424h1v1h-1zM233,424h1v1h-1zM237,424h1v1h-1zM241,424h1v1h-1zM239,423h1v1h-1zM259,423h1v1h-1zM266,422h1v1h-1zM236,421h1v1h-1zM262,421h1v1h-1zM228,420h1v1h-1zM271,418h1v1h-1zM226,417h1v1h-1zM265,417h1v1h-1zM227,416h1v1h-1zM233,416h1v1h-1zM236,416h1v1h-1zM242,416h1v1h-1zM234,415h1v1h-1zM237,415h1v1h-1zM228,412h1v1h-1zM236,412h1v1h-1zM267,411h1v1h-1zM243,409h1v1h-1zM267,396h1v1h-1z" fill="#000"/>
<rect x="219.2" y="391.5" width="68.1" height="69.9" fill="none" stroke="#000" stroke-width="1.3"/>
<rect x="248.55" y="399.7" width="23.85" height="28.3" fill="none" stroke="#888" stroke-width="1.1"/>
<rect x="222.2" y="392.3" width="46" height="6.6" fill="#fff"/>
<text x="222.2" y="398.2" font-size="8.1" font-weight="bold" textLength="44" lengthAdjust="spacingAndGlyphs">0.63 &#177; 0.05</text>
<path d="M219.20,461.4 v2.4 M219.2,461.40 h-2.4 M224.33,461.4 v1.5 M219.2,456.14 h-1.5 M227.32,461.4 v1.5 M219.2,453.06 h-1.5 M229.45,461.4 v1.5 M219.2,450.88 h-1.5 M231.10,461.4 v1.5 M219.2,449.19 h-1.5 M232.45,461.4 v1.5 M219.2,447.80 h-1.5 M233.59,461.4 v1.5 M219.2,446.63 h-1.5 M234.58,461.4 v1.5 M219.2,445.62 h-1.5 M235.45,461.4 v1.5 M219.2,444.72 h-1.5 M236.22,461.4 v2.4 M219.2,443.92 h-2.4 M241.35,461.4 v1.5 M219.2,438.66 h-1.5 M244.35,461.4 v1.5 M219.2,435.59 h-1.5 M246.48,461.4 v1.5 M219.2,433.40 h-1.5 M248.12,461.4 v1.5 M219.2,431.71 h-1.5 M249.47,461.4 v1.5 M219.2,430.33 h-1.5 M250.61,461.4 v1.5 M219.2,429.16 h-1.5 M251.60,461.4 v1.5 M219.2,428.14 h-1.5 M252.47,461.4 v1.5 M219.2,427.25 h-1.5 M253.25,461.4 v2.4 M219.2,426.45 h-2.4 M258.38,461.4 v1.5 M219.2,421.19 h-1.5 M261.37,461.4 v1.5 M219.2,418.11 h-1.5 M263.50,461.4 v1.5 M219.2,415.93 h-1.5 M265.15,461.4 v1.5 M219.2,414.24 h-1.5 M266.50,461.4 v1.5 M219.2,412.85 h-1.5 M267.64,461.4 v1.5 M219.2,411.68 h-1.5 M268.63,461.4 v1.5 M219.2,410.67 h-1.5 M269.50,461.4 v1.5 M219.2,409.77 h-1.5 M270.27,461.4 v2.4 M219.2,408.98 h-2.4 M275.40,461.4 v1.5 M219.2,403.71 h-1.5 M278.40,461.4 v1.5 M219.2,400.64 h-1.5 M280.53,461.4 v1.5 M219.2,398.45 h-1.5 M282.17,461.4 v1.5 M219.2,396.76 h-1.5 M283.52,461.4 v1.5 M219.2,395.38 h-1.5 M284.66,461.4 v1.5 M219.2,394.21 h-1.5 M285.65,461.4 v1.5 M219.2,393.19 h-1.5 M286.52,461.4 v1.5 M219.2,392.30 h-1.5 M287.30,461.4 v2.4 M219.2,391.5 h-2.4" stroke="#000" stroke-width="0.9"/>
<text x="218.20" y="471.5" font-size="7.1" font-weight="bold" stroke="#000" stroke-width="0.3" text-anchor="middle" textLength="5.8" lengthAdjust="spacingAndGlyphs">10</text>
<text x="221.10" y="468.3" font-size="5.4" font-weight="bold" stroke="#000" stroke-width="0.15">0</text>
<text x="213.40" y="461.30" font-size="7.3" font-weight="bold" stroke="#000" stroke-width="0.3" text-anchor="middle" textLength="5.5" lengthAdjust="spacingAndGlyphs" transform="rotate(-90 213.40 461.30)">10</text>
<text x="210.50" y="456.50" font-size="6.2" font-weight="bold" stroke="#000" stroke-width="0.15" transform="rotate(-90 210.50 456.50)">0</text>
<text x="234.86" y="471.5" font-size="7.1" font-weight="bold" stroke="#000" stroke-width="0.3" text-anchor="middle" textLength="5.8" lengthAdjust="spacingAndGlyphs">10</text>
<text x="237.76" y="468.3" font-size="5.4" font-weight="bold" stroke="#000" stroke-width="0.15">1</text>
<text x="213.40" y="444.50" font-size="7.3" font-weight="bold" stroke="#000" stroke-width="0.3" text-anchor="middle" textLength="5.5" lengthAdjust="spacingAndGlyphs" transform="rotate(-90 213.40 444.50)">10</text>
<text x="210.50" y="439.70" font-size="6.2" font-weight="bold" stroke="#000" stroke-width="0.15" transform="rotate(-90 210.50 439.70)">1</text>
<text x="251.52" y="471.5" font-size="7.1" font-weight="bold" stroke="#000" stroke-width="0.3" text-anchor="middle" textLength="5.8" lengthAdjust="spacingAndGlyphs">10</text>
<text x="254.42" y="468.3" font-size="5.4" font-weight="bold" stroke="#000" stroke-width="0.15">2</text>
<text x="213.40" y="427.70" font-size="7.3" font-weight="bold" stroke="#000" stroke-width="0.3" text-anchor="middle" textLength="5.5" lengthAdjust="spacingAndGlyphs" transform="rotate(-90 213.40 427.70)">10</text>
<text x="210.50" y="422.90" font-size="6.2" font-weight="bold" stroke="#000" stroke-width="0.15" transform="rotate(-90 210.50 422.90)">2</text>
<text x="268.18" y="471.5" font-size="7.1" font-weight="bold" stroke="#000" stroke-width="0.3" text-anchor="middle" textLength="5.8" lengthAdjust="spacingAndGlyphs">10</text>
<text x="271.08" y="468.3" font-size="5.4" font-weight="bold" stroke="#000" stroke-width="0.15">3</text>
<text x="213.40" y="410.90" font-size="7.3" font-weight="bold" stroke="#000" stroke-width="0.3" text-anchor="middle" textLength="5.5" lengthAdjust="spacingAndGlyphs" transform="rotate(-90 213.40 410.90)">10</text>
<text x="210.50" y="406.10" font-size="6.2" font-weight="bold" stroke="#000" stroke-width="0.15" transform="rotate(-90 210.50 406.10)">3</text>
<text x="284.84" y="471.5" font-size="7.1" font-weight="bold" stroke="#000" stroke-width="0.3" text-anchor="middle" textLength="5.8" lengthAdjust="spacingAndGlyphs">10</text>
<text x="287.74" y="468.3" font-size="5.4" font-weight="bold" stroke="#000" stroke-width="0.15">4</text>
<text x="213.40" y="394.10" font-size="7.3" font-weight="bold" stroke="#000" stroke-width="0.3" text-anchor="middle" textLength="5.5" lengthAdjust="spacingAndGlyphs" transform="rotate(-90 213.40 394.10)">10</text>
<text x="210.50" y="389.30" font-size="6.2" font-weight="bold" stroke="#000" stroke-width="0.15" transform="rotate(-90 210.50 389.30)">4</text>
<text x="252.6" y="477.9" font-size="6.2" font-weight="bold" stroke="#000" stroke-width="0.2" text-anchor="middle">FL1-H</text>
<text x="316.2" y="378.2" font-size="12.5" font-weight="bold" textLength="51.8" lengthAdjust="spacingAndGlyphs">i.g. OVA</text>
<path d="M309,460h27v1h-27zM337,460h2v1h-2zM343,460h3v1h-3zM348,460h15v1h-15zM309,459h28v1h-28zM340,459h2v1h-2zM343,459h2v1h-2zM346,459h17v1h-17zM369,459h1v1h-1zM309,458h27v1h-27zM338,458h3v1h-3zM342,458h1v1h-1zM344,458h1v1h-1zM346,458h19v1h-19zM309,457h29v1h-29zM339,457h4v1h-4zM344,457h19v1h-19zM309,456h32v1h-32zM342,456h1v1h-1zM344,456h19v1h-19zM366,456h1v1h-1zM309,455h31v1h-31zM341,455h20v1h-20zM362,455h1v1h-1zM366,455h1v1h-1zM309,454h28v1h-28zM338,454h5v1h-5zM344,454h20v1h-20zM365,454h1v1h-1zM309,453h56v1h-56zM309,452h31v1h-31zM341,452h1v1h-1zM343,452h20v1h-20zM309,451h31v1h-31zM341,451h23v1h-23zM309,450h32v1h-32zM342,450h4v1h-4zM347,450h18v1h-18zM366,450h2v1h-2zM309,449h29v1h-29zM339,449h1v1h-1zM341,449h22v1h-22zM365,449h1v1h-1zM309,448h53v1h-53zM309,447h33v1h-33zM343,447h20v1h-20zM364,447h2v1h-2zM309,446h32v1h-32zM342,446h1v1h-1zM346,446h15v1h-15zM364,446h1v1h-1zM309,445h31v1h-31zM342,445h19v1h-19zM362,445h2v1h-2zM309,444h30v1h-30zM340,444h1v1h-1zM343,444h1v1h-1zM346,444h17v1h-17zM365,444h1v1h-1zM370,444h1v1h-1zM309,443h30v1h-30zM345,443h16v1h-16zM362,443h1v1h-1zM309,442h34v1h-34zM346,442h15v1h-15zM363,442h1v1h-1zM309,441h28v1h-28zM338,441h3v1h-3zM342,441h2v1h-2zM345,441h2v1h-2zM349,441h7v1h-7zM357,441h4v1h-4zM363,441h2v1h-2zM309,440h1v1h-1zM311,440h9v1h-9zM321,440h12v1h-12zM334,440h1v1h-1zM336,440h3v1h-3zM340,440h1v1h-1zM349,440h1v1h-1zM351,440h6v1h-6zM358,440h1v1h-1zM362,440h2v1h-2zM310,439h8v1h-8zM319,439h2v1h-2zM323,439h4v1h-4zM328,439h6v1h-6zM335,439h3v1h-3zM340,439h1v1h-1zM345,439h1v1h-1zM348,439h1v1h-1zM350,439h7v1h-7zM358,439h3v1h-3zM363,439h1v1h-1zM309,438h4v1h-4zM314,438h24v1h-24zM339,438h1v1h-1zM343,438h1v1h-1zM346,438h1v1h-1zM349,438h1v1h-1zM352,438h9v1h-9zM362,438h1v1h-1zM309,437h2v1h-2zM312,437h6v1h-6zM319,437h2v1h-2zM322,437h5v1h-5zM328,437h3v1h-3zM332,437h3v1h-3zM336,437h1v1h-1zM339,437h1v1h-1zM345,437h1v1h-1zM347,437h1v1h-1zM349,437h2v1h-2zM353,437h4v1h-4zM359,437h1v1h-1zM365,437h1v1h-1zM310,436h4v1h-4zM316,436h8v1h-8zM325,436h3v1h-3zM329,436h2v1h-2zM332,436h2v1h-2zM336,436h1v1h-1zM341,436h1v1h-1zM345,436h1v1h-1zM350,436h1v1h-1zM352,436h1v1h-1zM354,436h1v1h-1zM356,436h1v1h-1zM358,436h3v1h-3zM313,435h3v1h-3zM320,435h5v1h-5zM326,435h4v1h-4zM331,435h5v1h-5zM337,435h1v1h-1zM339,435h4v1h-4zM348,435h2v1h-2zM352,435h4v1h-4zM359,435h2v1h-2zM362,435h1v1h-1zM310,434h2v1h-2zM313,434h1v1h-1zM318,434h7v1h-7zM326,434h2v1h-2zM329,434h1v1h-1zM334,434h1v1h-1zM338,434h1v1h-1zM354,434h1v1h-1zM356,434h1v1h-1zM359,434h1v1h-1zM313,433h1v1h-1zM315,433h1v1h-1zM317,433h2v1h-2zM321,433h1v1h-1zM323,433h1v1h-1zM328,433h1v1h-1zM330,433h2v1h-2zM334,433h2v1h-2zM340,433h1v1h-1zM344,433h1v1h-1zM347,433h1v1h-1zM351,433h1v1h-1zM355,433h2v1h-2zM358,433h1v1h-1zM360,433h1v1h-1zM363,433h1v1h-1zM309,432h3v1h-3zM313,432h1v1h-1zM316,432h1v1h-1zM324,432h2v1h-2zM327,432h3v1h-3zM332,432h3v1h-3zM340,432h1v1h-1zM350,432h1v1h-1zM352,432h1v1h-1zM354,432h1v1h-1zM319,431h2v1h-2zM325,431h1v1h-1zM330,431h2v1h-2zM334,431h1v1h-1zM355,431h1v1h-1zM312,430h1v1h-1zM318,430h3v1h-3zM323,430h2v1h-2zM327,430h2v1h-2zM331,430h2v1h-2zM353,430h1v1h-1zM312,429h1v1h-1zM314,429h1v1h-1zM317,429h1v1h-1zM320,429h2v1h-2zM310,428h1v1h-1zM319,428h1v1h-1zM323,428h1v1h-1zM327,428h1v1h-1zM343,428h1v1h-1zM359,428h1v1h-1zM318,427h1v1h-1zM320,427h1v1h-1zM326,427h1v1h-1zM328,427h1v1h-1zM346,427h1v1h-1zM350,427h1v1h-1zM323,426h1v1h-1zM325,426h1v1h-1zM329,426h3v1h-3zM326,425h1v1h-1zM328,425h1v1h-1zM323,424h1v1h-1zM336,424h1v1h-1zM325,423h3v1h-3zM339,423h1v1h-1zM341,423h1v1h-1zM319,422h1v1h-1zM326,422h1v1h-1zM312,421h1v1h-1zM322,421h1v1h-1zM326,421h1v1h-1zM326,419h2v1h-2zM319,417h1v1h-1zM359,417h1v1h-1zM328,415h1v1h-1zM330,412h1v1h-1zM317,411h1v1h-1zM327,409h1v1h-1z" fill="#000"/>
<rect x="308.6" y="391.5" width="68.1" height="69.9" fill="none" stroke="#000" stroke-width="1.3"/>
<rect x="337.95" y="399.7" width="23.85" height="28.3" fill="none" stroke="#888" stroke-width="1.1"/>
<rect x="311.6" y="392.3" width="46" height="6.6" fill="#fff"/>
<text x="311.6" y="398.2" font-size="8.1" font-weight="bold" textLength="44" lengthAdjust="spacingAndGlyphs">0.28 &#177; 0.05</text>
<path d="M308.60,461.4 v2.4 M308.6,461.40 h-2.4 M313.73,461.4 v1.5 M308.6,456.14 h-1.5 M316.72,461.4 v1.5 M308.6,453.06 h-1.5 M318.85,461.4 v1.5 M308.6,450.88 h-1.5 M320.50,461.4 v1.5 M308.6,449.19 h-1.5 M321.85,461.4 v1.5 M308.6,447.80 h-1.5 M322.99,461.4 v1.5 M308.6,446.63 h-1.5 M323.98,461.4 v1.5 M308.6,445.62 h-1.5 M324.85,461.4 v1.5 M308.6,444.72 h-1.5 M325.62,461.4 v2.4 M308.6,443.92 h-2.4 M330.75,461.4 v1.5 M308.6,438.66 h-1.5 M333.75,461.4 v1.5 M308.6,435.59 h-1.5 M335.88,461.4 v1.5 M308.6,433.40 h-1.5 M337.52,461.4 v1.5 M308.6,431.71 h-1.5 M338.87,461.4 v1.5 M308.6,430.33 h-1.5 M340.01,461.4 v1.5 M308.6,429.16 h-1.5 M341.00,461.4 v1.5 M308.6,428.14 h-1.5 M341.87,461.4 v1.5 M308.6,427.25 h-1.5 M342.65,461.4 v2.4 M308.6,426.45 h-2.4 M347.78,461.4 v1.5 M308.6,421.19 h-1.5 M350.77,461.4 v1.5 M308.6,418.11 h-1.5 M352.90,461.4 v1.5 M308.6,415.93 h-1.5 M354.55,461.4 v1.5 M308.6,414.24 h-1.5 M355.90,461.4 v1.5 M308.6,412.85 h-1.5 M357.04,461.4 v1.5 M308.6,411.68 h-1.5 M358.03,461.4 v1.5 M308.6,410.67 h-1.5 M358.90,461.4 v1.5 M308.6,409.77 h-1.5 M359.68,461.4 v2.4 M308.6,408.98 h-2.4 M364.80,461.4 v1.5 M308.6,403.71 h-1.5 M367.80,461.4 v1.5 M308.6,400.64 h-1.5 M369.93,461.4 v1.5 M308.6,398.45 h-1.5 M371.57,461.4 v1.5 M308.6,396.76 h-1.5 M372.92,461.4 v1.5 M308.6,395.38 h-1.5 M374.06,461.4 v1.5 M308.6,394.21 h-1.5 M375.05,461.4 v1.5 M308.6,393.19 h-1.5 M375.92,461.4 v1.5 M308.6,392.30 h-1.5 M376.70,461.4 v2.4 M308.6,391.5 h-2.4" stroke="#000" stroke-width="0.9"/>
<text x="307.60" y="471.5" font-size="7.1" font-weight="bold" stroke="#000" stroke-width="0.3" text-anchor="middle" textLength="5.8" lengthAdjust="spacingAndGlyphs">10</text>
<text x="310.50" y="468.3" font-size="5.4" font-weight="bold" stroke="#000" stroke-width="0.15">0</text>
<text x="302.80" y="461.30" font-size="7.3" font-weight="bold" stroke="#000" stroke-width="0.3" text-anchor="middle" textLength="5.5" lengthAdjust="spacingAndGlyphs" transform="rotate(-90 302.80 461.30)">10</text>
<text x="299.90" y="456.50" font-size="6.2" font-weight="bold" stroke="#000" stroke-width="0.15" transform="rotate(-90 299.90 456.50)">0</text>
<text x="324.26" y="471.5" font-size="7.1" font-weight="bold" stroke="#000" stroke-width="0.3" text-anchor="middle" textLength="5.8" lengthAdjust="spacingAndGlyphs">10</text>
<text x="327.16" y="468.3" font-size="5.4" font-weight="bold" stroke="#000" stroke-width="0.15">1</text>
<text x="302.80" y="444.50" font-size="7.3" font-weight="bold" stroke="#000" stroke-width="0.3" text-anchor="middle" textLength="5.5" lengthAdjust="spacingAndGlyphs" transform="rotate(-90 302.80 444.50)">10</text>
<text x="299.90" y="439.70" font-size="6.2" font-weight="bold" stroke="#000" stroke-width="0.15" transform="rotate(-90 299.90 439.70)">1</text>
<text x="340.92" y="471.5" font-size="7.1" font-weight="bold" stroke="#000" stroke-width="0.3" text-anchor="middle" textLength="5.8" lengthAdjust="spacingAndGlyphs">10</text>
<text x="343.82" y="468.3" font-size="5.4" font-weight="bold" stroke="#000" stroke-width="0.15">2</text>
<text x="302.80" y="427.70" font-size="7.3" font-weight="bold" stroke="#000" stroke-width="0.3" text-anchor="middle" textLength="5.5" lengthAdjust="spacingAndGlyphs" transform="rotate(-90 302.80 427.70)">10</text>
<text x="299.90" y="422.90" font-size="6.2" font-weight="bold" stroke="#000" stroke-width="0.15" transform="rotate(-90 299.90 422.90)">2</text>
<text x="357.58" y="471.5" font-size="7.1" font-weight="bold" stroke="#000" stroke-width="0.3" text-anchor="middle" textLength="5.8" lengthAdjust="spacingAndGlyphs">10</text>
<text x="360.48" y="468.3" font-size="5.4" font-weight="bold" stroke="#000" stroke-width="0.15">3</text>
<text x="302.80" y="410.90" font-size="7.3" font-weight="bold" stroke="#000" stroke-width="0.3" text-anchor="middle" textLength="5.5" lengthAdjust="spacingAndGlyphs" transform="rotate(-90 302.80 410.90)">10</text>
<text x="299.90" y="406.10" font-size="6.2" font-weight="bold" stroke="#000" stroke-width="0.15" transform="rotate(-90 299.90 406.10)">3</text>
<text x="374.24" y="471.5" font-size="7.1" font-weight="bold" stroke="#000" stroke-width="0.3" text-anchor="middle" textLength="5.8" lengthAdjust="spacingAndGlyphs">10</text>
<text x="377.14" y="468.3" font-size="5.4" font-weight="bold" stroke="#000" stroke-width="0.15">4</text>
<text x="302.80" y="394.10" font-size="7.3" font-weight="bold" stroke="#000" stroke-width="0.3" text-anchor="middle" textLength="5.5" lengthAdjust="spacingAndGlyphs" transform="rotate(-90 302.80 394.10)">10</text>
<text x="299.90" y="389.30" font-size="6.2" font-weight="bold" stroke="#000" stroke-width="0.15" transform="rotate(-90 299.90 389.30)">4</text>
<text x="342.0" y="477.9" font-size="6.2" font-weight="bold" stroke="#000" stroke-width="0.2" text-anchor="middle">FL1-H</text>
<text x="14.8" y="417.4" font-size="12.3" textLength="19.6" lengthAdjust="spacingAndGlyphs" transform="rotate(-90 14.8 417.4)">IFN</text>
<text x="14.8" y="396.9" font-size="9.8" transform="rotate(-90 14.8 396.9)">&#947;</text>
<path d="M12.8,468 V429" stroke="#000" stroke-width="1.6"/>
<path d="M12.8,422.3 L17.1,432.6 L12.8,430.2 L8.5,432.6 Z" fill="#000"/>
<path d="M36.5,483.7 H91" stroke="#000" stroke-width="1.6"/>
<path d="M96.9,483.7 L86.6,479.6 L89,483.7 L86.6,487.8 Z" fill="#000"/>
<text x="101.2" y="491.2" font-size="13.6" text-anchor="start" fill="#000" >CD8</text>
</svg>
</body></html>
